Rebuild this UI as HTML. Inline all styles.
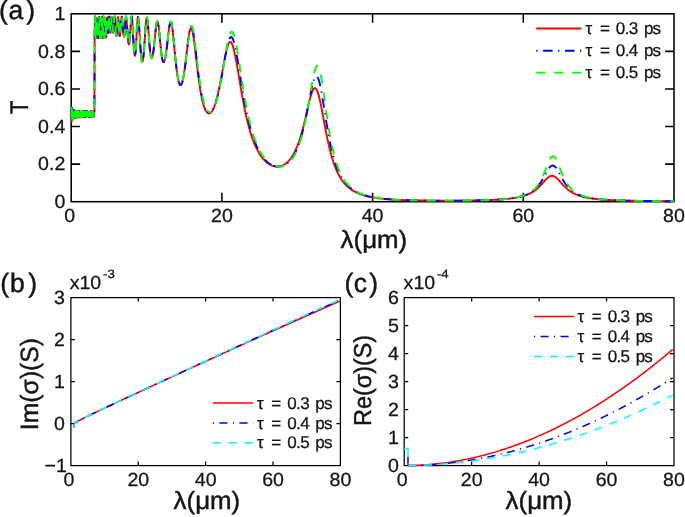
<!DOCTYPE html>
<html><head><meta charset="utf-8"><title>Figure</title>
<style>
html,body{margin:0;padding:0;background:#fff;}
body{width:685px;height:517px;overflow:hidden;font-family:"Liberation Sans",sans-serif;}
svg{display:block;position:absolute;left:0;top:0;}
svg text{stroke:#141213;stroke-width:0.28px;stroke-linejoin:round;text-rendering:geometricPrecision;font-family:"Liberation Sans",sans-serif;fill:#141213;}
</style></head><body>
<svg width="685" height="517" viewBox="0 0 685 517">
<defs><clipPath id="ca"><rect x="70.20" y="12.80" width="604.80" height="190.10"/></clipPath><clipPath id="cb"><rect x="69.90" y="296.60" width="271.50" height="170.20"/></clipPath><clipPath id="cc"><rect x="403.20" y="296.60" width="271.80" height="170.20"/></clipPath></defs>
<rect width="685" height="517" fill="#fff"/>
<rect x="71.20" y="13.80" width="602.80" height="187.90" fill="none" stroke="#000" stroke-width="1.55"/>
<path d="M221.90,201.70 v-8.90 M221.90,13.80 v8.90 M372.60,201.70 v-8.90 M372.60,13.80 v8.90 M523.30,201.70 v-8.90 M523.30,13.80 v8.90 M71.20,164.12 h8.90 M674.00,164.12 h-8.90 M71.20,126.54 h8.90 M674.00,126.54 h-8.90 M71.20,88.96 h8.90 M674.00,88.96 h-8.90 M71.20,51.38 h8.90 M674.00,51.38 h-8.90" fill="none" stroke="#000" stroke-width="1.55"/>
<g clip-path="url(#ca)">
<path d="M71.35,107.24 L71.69,121.56 L72.03,109.87 L72.37,119.02 L72.71,110.09 L73.05,117.75 L73.39,110.53 L73.72,117.91 L74.06,110.46 L74.40,117.93 L74.74,110.77 L75.08,117.89 L75.42,111.43 L75.76,117.99 L76.10,111.92 L76.44,117.41 L76.78,111.37 L77.11,117.08 L77.45,111.93 L77.79,116.41 L78.13,110.95 L78.47,117.55 L78.81,111.77 L79.15,117.06 L79.49,110.96 L79.83,117.32 L80.17,112.19 L80.51,116.01 L80.84,112.08 L81.18,117.23 L81.52,112.20 L81.86,116.54 L82.20,110.96 L82.54,116.70 L82.88,111.35 L83.22,116.37 L83.56,111.37 L83.90,117.12 L84.24,112.34 L84.57,116.99 L84.91,110.95 L85.25,116.98 L85.59,111.97 L85.93,117.04 L86.27,112.23 L86.61,116.54 L86.95,111.07 L87.29,116.32 L87.63,111.96 L87.97,116.08 L88.30,112.35 L88.64,116.87 L88.98,112.08 L89.32,116.28 L89.66,111.67 L90.00,115.97 L90.34,111.56 L90.68,116.11 L91.02,111.53 L91.36,116.90 L91.70,112.23 L92.03,116.49 L92.37,111.38 L92.71,116.49 L93.05,112.31 L93.39,116.67 L93.73,111.43 L94.07,116.64 L94.41,111.02 L94.63,36.25 L94.99,16.81 L95.15,24.05 L95.43,38.21 L95.70,26.04 L95.85,17.79 L96.07,22.37 L96.21,32.19 L96.48,37.20 L96.74,22.44 L97.00,18.48 L97.25,32.54 L97.40,37.89 L97.57,35.94 L97.84,21.57 L98.17,21.62 L98.27,27.22 L98.54,38.01 L98.86,29.72 L98.92,26.30 L99.25,17.30 L99.54,29.86 L99.63,34.26 L99.92,37.33 L100.21,25.47 L100.29,21.42 L100.59,18.05 L100.86,29.25 L101.07,36.94 L101.26,37.77 L101.44,32.98 L101.72,20.92 L101.92,16.81 L102.16,22.44 L102.37,31.24 L102.68,38.23 L102.90,35.10 L103.04,30.06 L103.31,19.57 L103.48,16.81 L103.74,21.59 L103.95,29.60 L104.23,37.44 L104.41,38.00 L104.65,33.06 L104.92,23.25 L105.09,18.37 L105.41,18.63 L105.50,21.08 L105.83,32.07 L106.00,36.08 L106.22,37.44 L106.49,33.09 L106.69,26.89 L106.90,20.74 L107.05,17.75 L107.29,17.29 L107.63,23.82 L107.82,28.42 L108.08,32.56 L108.35,32.90 L108.53,30.91 L108.64,28.91 L108.92,22.91 L109.19,17.93 L109.35,16.83 L109.71,20.02 L109.94,24.47 L110.14,28.64 L110.30,31.07 L110.59,32.82 L110.69,32.51 L110.95,29.77 L111.20,25.20 L111.48,20.06 L111.66,17.74 L111.82,16.83 L112.09,18.07 L112.31,21.21 L112.53,25.20 L112.73,28.64 L113.00,31.82 L113.24,32.61 L113.52,30.99 L113.75,28.00 L113.93,25.12 L114.14,21.55 L114.43,17.95 L114.67,16.81 L114.86,17.41 L115.11,20.05 L115.36,24.25 L115.42,25.45 L115.80,32.23 L115.92,33.86 L116.18,35.99 L116.41,35.90 L116.56,34.97 L116.71,33.43 L116.86,31.39 L117.01,28.97 L117.16,26.34 L117.31,23.70 L117.46,21.24 L117.62,19.18 L117.77,17.69 L117.92,16.91 L118.07,16.91 L118.22,17.69 L118.37,19.17 L118.52,21.23 L118.67,23.66 L118.82,26.28 L118.97,28.86 L119.12,31.23 L119.27,33.24 L119.42,34.78 L119.57,35.78 L119.73,36.18 L119.88,35.99 L120.03,35.22 L120.18,33.94 L120.33,32.21 L120.48,30.13 L120.63,27.83 L120.78,25.45 L120.93,23.13 L121.08,21.02 L121.23,19.24 L121.38,17.90 L121.53,17.08 L121.68,16.81 L121.84,17.07 L121.99,17.81 L122.14,18.95 L122.29,20.41 L122.44,22.11 L122.59,23.95 L122.74,25.88 L122.89,27.81 L123.04,29.68 L123.19,31.44 L123.34,33.04 L123.49,34.41 L123.64,35.51 L123.79,36.30 L123.94,36.75 L124.10,36.82 L124.25,36.47 L124.40,35.66 L124.55,34.38 L124.70,32.67 L124.85,30.59 L125.00,28.24 L125.15,25.78 L125.30,23.36 L125.45,21.14 L125.60,19.29 L125.75,17.91 L125.90,17.08 L126.05,16.81 L126.21,17.06 L126.36,17.81 L126.51,18.99 L126.66,20.53 L126.81,22.36 L126.96,24.41 L127.11,26.61 L127.26,28.87 L127.41,31.15 L127.56,33.37 L127.71,35.50 L127.86,37.48 L128.01,39.28 L128.16,40.85 L128.32,42.17 L128.47,43.21 L128.62,43.95 L128.77,44.39 L128.92,44.49 L129.07,44.26 L129.22,43.69 L129.37,42.79 L129.52,41.58 L129.67,40.07 L129.82,38.29 L129.97,36.28 L130.12,34.08 L130.27,31.75 L130.43,29.35 L130.58,26.95 L130.73,24.63 L130.88,22.48 L131.03,20.57 L131.18,18.99 L131.33,17.80 L131.48,17.06 L131.63,16.81 L131.78,17.06 L131.93,17.81 L132.08,19.04 L132.23,20.71 L132.38,22.74 L132.53,25.09 L132.69,27.68 L132.84,30.44 L132.99,33.28 L133.14,36.15 L133.29,38.98 L133.44,41.70 L133.59,44.28 L133.74,46.67 L133.89,48.83 L134.04,50.73 L134.19,52.35 L134.34,53.67 L134.49,54.67 L134.64,55.34 L134.80,55.69 L134.95,55.70 L135.10,55.37 L135.25,54.68 L135.40,53.64 L135.55,52.25 L135.70,50.53 L135.85,48.49 L136.00,46.16 L136.15,43.59 L136.30,40.82 L136.45,37.91 L136.60,34.92 L136.75,31.93 L136.91,29.03 L137.06,26.29 L137.21,23.79 L137.36,21.61 L137.51,19.81 L137.66,18.43 L137.81,17.51 L137.96,17.06 L138.11,17.07 L138.26,17.51 L138.41,18.35 L138.56,19.57 L138.71,21.10 L138.86,22.92 L139.01,24.96 L139.17,27.17 L139.32,29.52 L139.47,31.95 L139.62,34.42 L139.77,36.91 L139.92,39.38 L140.07,41.79 L140.22,44.13 L140.37,46.38 L140.52,48.51 L140.67,50.52 L140.82,52.39 L140.97,54.10 L141.12,55.66 L141.28,57.06 L141.43,58.28 L141.58,59.32 L141.73,60.18 L141.88,60.85 L142.03,61.33 L142.18,61.62 L142.33,61.70 L142.48,61.59 L142.63,61.29 L142.78,60.78 L142.93,60.09 L143.08,59.20 L143.23,58.13 L143.39,56.88 L143.54,55.46 L143.69,53.88 L143.84,52.15 L143.99,50.27 L144.14,48.27 L144.29,46.16 L144.44,43.96 L144.59,41.69 L144.74,39.37 L144.89,37.02 L145.04,34.69 L145.19,32.38 L145.34,30.14 L145.50,28.00 L145.65,25.98 L145.80,24.12 L145.95,22.45 L146.10,21.00 L146.25,19.78 L146.40,18.82 L146.55,18.13 L146.70,17.72 L146.85,17.60 L147.00,17.76 L147.15,18.21 L147.30,18.93 L147.45,19.90 L147.60,21.11 L147.76,22.53 L147.91,24.13 L148.06,25.88 L148.21,27.76 L148.36,29.73 L148.51,31.76 L148.66,33.83 L148.81,35.91 L148.96,37.98 L149.11,40.01 L149.26,41.98 L149.41,43.88 L149.56,45.69 L149.71,47.40 L149.87,49.01 L150.02,50.50 L150.17,51.86 L150.32,53.10 L150.47,54.21 L150.62,55.18 L150.77,56.02 L150.92,56.73 L151.07,57.31 L151.22,57.76 L151.37,58.08 L151.52,58.27 L151.67,58.34 L151.82,58.28 L151.98,58.10 L152.13,57.81 L152.28,57.41 L152.43,56.89 L152.58,56.28 L152.73,55.57 L152.88,54.76 L153.03,53.87 L153.18,52.88 L153.33,51.82 L153.48,50.69 L153.63,49.49 L153.78,48.22 L153.93,46.90 L154.08,45.53 L154.24,44.12 L154.39,42.68 L154.54,41.21 L154.69,39.72 L154.84,38.23 L154.99,36.73 L155.14,35.25 L155.29,33.80 L155.44,32.37 L155.59,31.00 L155.74,29.67 L155.89,28.41 L156.04,27.24 L156.19,26.15 L156.35,25.15 L156.50,24.27 L156.65,23.51 L156.80,22.87 L156.95,22.36 L157.10,22.00 L157.25,21.78 L157.40,21.71 L157.55,21.80 L157.70,22.05 L157.85,22.45 L158.00,22.99 L158.15,23.69 L158.30,24.52 L158.46,25.49 L158.61,26.57 L158.76,27.76 L158.91,29.06 L159.06,30.43 L159.21,31.88 L159.36,33.39 L159.51,34.94 L159.66,36.52 L159.81,38.13 L159.96,39.74 L160.11,41.34 L160.26,42.93 L160.41,44.50 L160.57,46.03 L160.72,47.52 L160.87,48.96 L161.02,50.34 L161.17,51.66 L161.32,52.91 L161.47,54.09 L161.62,55.20 L161.77,56.23 L161.92,57.17 L162.07,58.04 L162.22,58.82 L162.37,59.52 L162.52,60.13 L162.67,60.66 L162.83,61.10 L162.98,61.46 L163.13,61.74 L163.28,61.94 L163.43,62.06 L163.58,62.11 L163.73,62.08 L163.88,61.98 L164.03,61.81 L164.18,61.56 L164.33,61.25 L164.48,60.86 L164.63,60.41 L164.78,59.89 L164.94,59.31 L165.09,58.66 L165.24,57.94 L165.39,57.17 L165.54,56.34 L165.69,55.45 L165.84,54.51 L165.99,53.51 L166.14,52.47 L166.29,51.38 L166.44,50.24 L166.59,49.07 L166.74,47.86 L166.89,46.62 L167.05,45.35 L167.20,44.06 L167.35,42.75 L167.50,41.43 L167.65,40.10 L167.80,38.78 L167.95,37.45 L168.10,36.14 L168.25,34.85 L168.40,33.59 L168.55,32.35 L168.70,31.16 L168.85,30.01 L169.00,28.92 L169.15,27.89 L169.31,26.93 L169.46,26.04 L169.61,25.23 L169.76,24.51 L169.91,23.88 L170.06,23.35 L170.21,22.92 L170.36,22.60 L170.51,22.39 L170.66,22.29 L170.81,22.30 L170.96,22.42 L171.11,22.67 L171.26,23.02 L171.42,23.48 L171.57,24.06 L171.72,24.74 L171.87,25.52 L172.02,26.40 L172.17,27.37 L172.32,28.43 L172.47,29.57 L172.62,30.78 L172.77,32.07 L172.92,33.41 L173.07,34.81 L173.22,36.26 L173.37,37.76 L173.53,39.29 L173.68,40.84 L173.83,42.43 L173.98,44.02 L174.13,45.63 L174.28,47.25 L174.43,48.86 L174.58,50.47 L174.73,52.08 L174.88,53.66 L175.03,55.23 L175.18,56.78 L175.33,58.31 L175.48,59.80 L175.64,61.27 L175.79,62.70 L175.94,64.10 L176.09,65.46 L176.24,66.78 L176.39,68.06 L176.54,69.30 L176.69,70.49 L176.84,71.64 L176.99,72.75 L177.14,73.81 L177.29,74.82 L177.44,75.79 L177.59,76.70 L177.74,77.57 L177.90,78.40 L178.05,79.17 L178.20,79.90 L178.35,80.57 L178.50,81.20 L178.65,81.79 L178.80,82.32 L178.95,82.80 L179.10,83.24 L179.25,83.63 L179.40,83.97 L179.55,84.27 L179.70,84.52 L179.85,84.72 L180.01,84.88 L180.16,85.00 L180.31,85.07 L180.46,85.09 L180.61,85.08 L180.76,85.02 L180.91,84.91 L181.06,84.76 L181.21,84.57 L181.36,84.34 L181.51,84.06 L181.66,83.74 L181.81,83.38 L181.96,82.98 L182.12,82.53 L182.27,82.05 L182.42,81.52 L182.57,80.95 L182.72,80.34 L182.87,79.69 L183.02,79.00 L183.17,78.27 L183.32,77.51 L183.47,76.71 L183.62,75.86 L183.77,74.99 L183.92,74.08 L184.07,73.13 L184.22,72.15 L184.38,71.13 L184.53,70.09 L184.68,69.01 L184.83,67.91 L184.98,66.77 L185.13,65.62 L185.28,64.43 L185.43,63.23 L185.58,62.00 L185.73,60.76 L185.88,59.50 L186.03,58.22 L186.18,56.93 L186.33,55.64 L186.49,54.33 L186.64,53.03 L186.79,51.72 L186.94,50.41 L187.09,49.11 L187.24,47.82 L187.39,46.54 L187.54,45.28 L187.69,44.03 L187.84,42.81 L187.99,41.61 L188.14,40.44 L188.29,39.30 L188.44,38.20 L188.60,37.14 L188.75,36.13 L188.90,35.16 L189.05,34.24 L189.20,33.37 L189.35,32.56 L189.50,31.81 L189.65,31.12 L189.80,30.50 L189.95,29.94 L190.10,29.44 L190.25,29.02 L190.40,28.67 L190.55,28.38 L190.71,28.17 L190.86,28.04 L191.01,27.98 L191.16,27.99 L191.31,28.07 L191.46,28.22 L191.61,28.45 L191.76,28.75 L192.14,29.79 L192.51,31.24 L192.89,33.07 L193.27,35.24 L193.64,37.70 L194.02,40.41 L194.40,43.33 L194.77,46.40 L195.15,49.59 L195.53,52.85 L195.90,56.16 L196.28,59.47 L196.66,62.76 L197.03,66.00 L197.41,69.17 L197.79,72.27 L198.16,75.26 L198.54,78.15 L198.92,80.93 L199.30,83.58 L199.67,86.11 L200.05,88.52 L200.43,90.80 L200.80,92.95 L201.18,94.98 L201.56,96.88 L201.93,98.67 L202.31,100.33 L202.69,101.88 L203.06,103.32 L203.44,104.65 L203.82,105.87 L204.19,106.99 L204.57,108.02 L204.95,108.94 L205.32,109.77 L205.70,110.52 L206.08,111.17 L206.45,111.74 L206.83,112.22 L207.21,112.62 L207.58,112.94 L207.96,113.19 L208.34,113.36 L208.71,113.45 L209.09,113.47 L209.47,113.41 L209.84,113.28 L210.22,113.08 L210.60,112.80 L210.97,112.46 L211.35,112.04 L211.73,111.56 L212.10,111.00 L212.48,110.38 L212.86,109.69 L213.23,108.93 L213.61,108.10 L213.99,107.20 L214.37,106.24 L214.74,105.21 L215.12,104.11 L215.50,102.95 L215.87,101.72 L216.25,100.42 L216.63,99.06 L217.00,97.63 L217.38,96.14 L217.76,94.59 L218.13,92.98 L218.51,91.31 L218.89,89.58 L219.26,87.80 L219.64,85.97 L220.02,84.09 L220.39,82.17 L220.77,80.21 L221.15,78.21 L221.52,76.19 L221.90,74.14 L222.28,72.07 L222.65,70.00 L223.03,67.92 L223.41,65.85 L223.78,63.80 L224.16,61.78 L224.54,59.79 L224.91,57.85 L225.29,55.97 L225.67,54.16 L226.04,52.43 L226.42,50.79 L226.80,49.27 L227.17,47.85 L227.55,46.57 L227.93,45.43 L228.30,44.43 L228.68,43.59 L229.06,42.91 L229.44,42.41 L229.81,42.08 L230.19,41.93 L230.57,41.97 L230.94,42.19 L231.32,42.58 L231.70,43.16 L232.07,43.90 L232.45,44.81 L232.83,45.88 L233.20,47.10 L233.58,48.45 L233.96,49.93 L234.33,51.54 L234.71,53.25 L235.09,55.06 L235.46,56.96 L235.84,58.94 L236.22,60.99 L236.59,63.09 L236.97,65.24 L237.35,67.43 L237.72,69.65 L238.10,71.89 L238.48,74.15 L238.85,76.42 L239.23,78.68 L239.61,80.94 L239.98,83.20 L240.36,85.43 L240.74,87.65 L241.11,89.85 L241.49,92.01 L241.87,94.15 L242.24,96.26 L242.62,98.33 L243.00,100.37 L243.37,102.37 L243.75,104.33 L244.13,106.25 L244.51,108.13 L244.88,109.97 L245.26,111.76 L245.64,113.52 L246.01,115.23 L246.39,116.91 L246.77,118.54 L247.14,120.13 L247.52,121.68 L247.90,123.18 L248.27,124.65 L248.65,126.08 L249.03,127.48 L249.40,128.83 L249.78,130.15 L250.16,131.43 L250.53,132.68 L250.91,133.89 L251.29,135.06 L251.66,136.21 L252.04,137.32 L252.42,138.40 L252.79,139.45 L253.17,140.47 L253.55,141.46 L253.92,142.42 L254.30,143.35 L254.68,144.26 L255.05,145.14 L255.43,146.00 L255.81,146.83 L256.18,147.63 L256.56,148.41 L256.94,149.17 L257.31,149.91 L257.69,150.62 L258.07,151.31 L258.44,151.98 L258.82,152.63 L259.20,153.27 L259.58,153.88 L259.95,154.47 L260.33,155.05 L260.71,155.60 L261.08,156.14 L261.46,156.66 L261.84,157.17 L262.21,157.66 L262.59,158.13 L262.97,158.59 L263.34,159.03 L263.72,159.46 L264.10,159.87 L264.47,160.27 L264.85,160.66 L265.23,161.03 L265.60,161.38 L265.98,161.73 L266.36,162.06 L266.73,162.38 L267.11,162.68 L267.49,162.97 L267.86,163.26 L268.24,163.52 L268.62,163.78 L268.99,164.03 L269.37,164.26 L269.75,164.48 L270.12,164.69 L270.50,164.89 L270.88,165.08 L271.25,165.25 L271.63,165.42 L272.01,165.57 L272.38,165.71 L272.76,165.84 L273.14,165.96 L273.51,166.07 L273.89,166.16 L274.27,166.25 L274.65,166.32 L275.02,166.39 L275.40,166.44 L275.78,166.48 L276.15,166.51 L276.53,166.53 L276.91,166.53 L277.28,166.53 L277.66,166.52 L278.04,166.50 L278.41,166.46 L278.79,166.42 L279.17,166.36 L279.54,166.30 L279.92,166.22 L280.30,166.13 L280.67,166.03 L281.05,165.92 L281.43,165.80 L281.80,165.66 L282.18,165.52 L282.56,165.36 L282.93,165.19 L283.31,165.00 L283.69,164.81 L284.06,164.60 L284.44,164.38 L284.82,164.14 L285.19,163.89 L285.57,163.63 L285.95,163.35 L286.32,163.06 L286.70,162.75 L287.08,162.43 L287.45,162.09 L287.83,161.73 L288.21,161.36 L288.58,160.97 L288.96,160.57 L289.34,160.15 L289.72,159.70 L290.09,159.24 L290.47,158.76 L290.85,158.27 L291.22,157.75 L291.60,157.21 L291.98,156.65 L292.35,156.06 L292.73,155.46 L293.11,154.83 L293.48,154.18 L293.86,153.50 L294.24,152.80 L294.61,152.07 L294.99,151.32 L295.37,150.54 L295.74,149.73 L296.12,148.90 L296.50,148.03 L296.87,147.14 L297.25,146.21 L297.63,145.26 L298.00,144.27 L298.38,143.25 L298.76,142.20 L299.13,141.12 L299.51,140.00 L299.89,138.85 L300.26,137.67 L300.64,136.45 L301.02,135.19 L301.39,133.90 L301.77,132.58 L302.15,131.23 L302.52,129.84 L302.90,128.42 L303.28,126.97 L303.65,125.49 L304.03,123.98 L304.41,122.44 L304.79,120.88 L305.16,119.29 L305.54,117.69 L305.92,116.07 L306.29,114.44 L306.67,112.80 L307.05,111.16 L307.42,109.52 L307.80,107.88 L308.18,106.26 L308.55,104.66 L308.93,103.08 L309.31,101.54 L309.68,100.05 L310.06,98.60 L310.44,97.21 L310.81,95.88 L311.19,94.64 L311.57,93.48 L311.94,92.41 L312.32,91.44 L312.70,90.58 L313.07,89.84 L313.45,89.23 L313.83,88.74 L314.20,88.40 L314.58,88.19 L314.96,88.12 L315.33,88.21 L315.71,88.44 L316.09,88.82 L316.46,89.35 L316.84,90.02 L317.22,90.83 L317.59,91.78 L317.97,92.86 L318.35,94.06 L318.72,95.38 L319.10,96.81 L319.48,98.34 L319.86,99.96 L320.23,101.67 L320.61,103.44 L320.99,105.28 L321.36,107.18 L321.74,109.12 L322.12,111.10 L322.49,113.10 L322.87,115.13 L323.25,117.17 L323.62,119.21 L324.00,121.25 L324.38,123.28 L324.75,125.30 L325.13,127.30 L325.51,129.28 L325.88,131.24 L326.26,133.16 L326.64,135.05 L327.01,136.90 L327.39,138.72 L327.77,140.50 L328.14,142.23 L328.52,143.93 L328.90,145.58 L329.27,147.19 L329.65,148.76 L330.03,150.28 L330.40,151.76 L330.78,153.20 L331.16,154.59 L331.53,155.94 L331.91,157.26 L332.29,158.53 L332.66,159.76 L333.04,160.95 L333.42,162.10 L333.79,163.22 L334.17,164.30 L334.55,165.35 L334.93,166.36 L335.30,167.34 L335.68,168.28 L336.06,169.20 L336.43,170.08 L336.81,170.94 L337.19,171.76 L337.56,172.56 L337.94,173.34 L338.32,174.09 L338.69,174.81 L339.07,175.51 L339.45,176.19 L339.82,176.84 L340.20,177.47 L340.58,178.08 L340.95,178.68 L341.33,179.25 L341.71,179.81 L342.08,180.34 L342.46,180.86 L342.84,181.37 L343.21,181.85 L343.59,182.33 L343.97,182.79 L344.34,183.23 L344.72,183.67 L345.10,184.09 L345.47,184.50 L345.85,184.89 L346.23,185.28 L346.60,185.65 L346.98,186.01 L347.36,186.37 L347.73,186.71 L348.11,187.04 L348.49,187.37 L348.86,187.68 L349.24,187.99 L349.62,188.29 L350.00,188.58 L350.37,188.86 L350.75,189.13 L351.13,189.40 L351.50,189.66 L351.88,189.91 L352.26,190.16 L352.63,190.40 L353.01,190.63 L353.39,190.86 L353.76,191.08 L354.14,191.29 L354.52,191.50 L354.89,191.71 L355.27,191.91 L355.65,192.10 L356.02,192.29 L356.40,192.48 L356.78,192.66 L357.15,192.83 L357.53,193.00 L357.91,193.17 L358.28,193.33 L358.66,193.49 L359.04,193.65 L359.41,193.80 L359.79,193.95 L360.17,194.09 L360.54,194.23 L360.92,194.37 L361.30,194.50 L361.67,194.63 L362.05,194.76 L362.43,194.89 L362.80,195.01 L363.18,195.13 L363.56,195.25 L363.93,195.36 L364.31,195.47 L364.69,195.58 L365.07,195.69 L365.44,195.79 L365.82,195.89 L366.20,195.99 L366.57,196.09 L366.95,196.18 L367.33,196.27 L367.70,196.37 L368.08,196.45 L368.46,196.54 L368.83,196.63 L369.21,196.71 L369.59,196.79 L369.96,196.87 L370.34,196.95 L370.72,197.02 L371.09,197.10 L371.47,197.17 L371.85,197.24 L372.22,197.31 L372.60,197.38 L372.98,197.45 L373.35,197.51 L373.73,197.58 L374.11,197.64 L374.48,197.70 L374.86,197.76 L375.24,197.82 L375.61,197.88 L375.99,197.93 L376.37,197.99 L376.74,198.04 L377.12,198.10 L377.50,198.15 L377.87,198.20 L378.25,198.25 L378.63,198.30 L379.00,198.35 L379.38,198.39 L379.76,198.44 L380.14,198.49 L380.51,198.53 L380.89,198.57 L381.27,198.62 L381.64,198.66 L382.02,198.70 L382.40,198.74 L382.77,198.78 L383.15,198.82 L383.53,198.85 L383.90,198.89 L384.28,198.93 L384.66,198.96 L385.03,199.00 L385.41,199.03 L385.79,199.07 L386.16,199.10 L386.54,199.13 L386.92,199.16 L387.29,199.19 L387.67,199.22 L388.05,199.25 L388.42,199.28 L388.80,199.31 L389.18,199.34 L389.55,199.37 L389.93,199.40 L390.31,199.42 L390.68,199.45 L391.06,199.47 L391.44,199.50 L391.81,199.52 L392.19,199.55 L392.57,199.57 L392.94,199.59 L393.32,199.62 L393.70,199.64 L394.07,199.66 L394.45,199.68 L394.83,199.70 L395.21,199.72 L395.58,199.75 L395.96,199.77 L396.34,199.78 L396.71,199.80 L397.09,199.82 L397.47,199.84 L397.84,199.86 L398.22,199.88 L398.60,199.89 L398.97,199.91 L399.35,199.93 L399.73,199.94 L400.10,199.96 L400.48,199.98 L400.86,199.99 L401.23,200.01 L401.61,200.02 L401.99,200.04 L402.36,200.05 L402.74,200.06 L403.12,200.08 L403.49,200.09 L403.87,200.10 L404.25,200.12 L404.62,200.13 L405.00,200.14 L405.38,200.15 L405.75,200.17 L406.13,200.18 L406.51,200.19 L406.88,200.20 L407.26,200.21 L407.64,200.22 L408.01,200.23 L408.39,200.24 L408.77,200.25 L409.14,200.26 L409.52,200.27 L409.90,200.28 L410.28,200.29 L410.65,200.30 L411.03,200.31 L411.41,200.32 L411.78,200.33 L412.16,200.33 L412.54,200.34 L412.91,200.35 L413.29,200.36 L413.67,200.37 L414.04,200.37 L414.42,200.38 L414.80,200.39 L415.17,200.40 L415.55,200.40 L415.93,200.41 L416.30,200.42 L416.68,200.42 L417.06,200.43 L417.43,200.44 L417.81,200.44 L418.19,200.45 L418.56,200.46 L418.94,200.46 L419.32,200.47 L419.69,200.47 L420.07,200.48 L420.45,200.48 L420.82,200.49 L421.20,200.49 L421.58,200.50 L421.95,200.51 L422.33,200.51 L422.71,200.52 L423.08,200.52 L423.46,200.52 L423.84,200.53 L424.21,200.53 L424.59,200.54 L424.97,200.54 L425.35,200.55 L425.72,200.55 L426.10,200.55 L426.48,200.56 L426.85,200.56 L427.23,200.57 L427.61,200.57 L427.98,200.57 L428.36,200.58 L428.74,200.58 L429.11,200.58 L429.49,200.59 L429.87,200.59 L430.24,200.59 L430.62,200.60 L431.00,200.60 L431.37,200.60 L431.75,200.60 L432.13,200.61 L432.50,200.61 L432.88,200.61 L433.26,200.61 L433.63,200.62 L434.01,200.62 L434.39,200.62 L434.76,200.62 L435.14,200.63 L435.52,200.63 L435.89,200.63 L436.27,200.63 L436.65,200.63 L437.02,200.63 L437.40,200.64 L437.78,200.64 L438.15,200.64 L438.53,200.64 L438.91,200.64 L439.28,200.64 L439.66,200.64 L440.04,200.64 L440.42,200.65 L440.79,200.65 L441.17,200.65 L441.55,200.65 L441.92,200.65 L442.30,200.65 L442.68,200.65 L443.05,200.65 L443.43,200.65 L443.81,200.65 L444.18,200.65 L444.56,200.65 L444.94,200.65 L445.31,200.65 L445.69,200.65 L446.07,200.65 L446.44,200.65 L446.82,200.65 L447.20,200.65 L447.57,200.65 L447.95,200.65 L448.33,200.65 L448.70,200.65 L449.08,200.65 L449.46,200.65 L449.83,200.65 L450.21,200.64 L450.59,200.64 L450.96,200.64 L451.34,200.64 L451.72,200.64 L452.09,200.64 L452.47,200.64 L452.85,200.64 L453.22,200.63 L453.60,200.63 L453.98,200.63 L454.35,200.63 L454.73,200.63 L455.11,200.63 L455.49,200.62 L455.86,200.62 L456.24,200.62 L456.62,200.62 L456.99,200.62 L457.37,200.61 L457.75,200.61 L458.12,200.61 L458.50,200.61 L458.88,200.60 L459.25,200.60 L459.63,200.60 L460.01,200.59 L460.38,200.59 L460.76,200.59 L461.14,200.58 L461.51,200.58 L461.89,200.58 L462.27,200.57 L462.64,200.57 L463.02,200.57 L463.40,200.56 L463.77,200.56 L464.15,200.56 L464.53,200.55 L464.90,200.55 L465.28,200.54 L465.66,200.54 L466.03,200.54 L466.41,200.53 L466.79,200.53 L467.16,200.52 L467.54,200.52 L467.92,200.51 L468.29,200.51 L468.67,200.50 L469.05,200.50 L469.42,200.49 L469.80,200.49 L470.18,200.48 L470.56,200.47 L470.93,200.47 L471.31,200.46 L471.69,200.46 L472.06,200.45 L472.44,200.45 L472.82,200.44 L473.19,200.43 L473.57,200.43 L473.95,200.42 L474.32,200.41 L474.70,200.41 L475.08,200.40 L475.45,200.39 L475.83,200.38 L476.21,200.38 L476.58,200.37 L476.96,200.36 L477.34,200.35 L477.71,200.34 L478.09,200.34 L478.47,200.33 L478.84,200.32 L479.22,200.31 L479.60,200.30 L479.97,200.29 L480.35,200.28 L480.73,200.27 L481.10,200.26 L481.48,200.25 L481.86,200.24 L482.23,200.23 L482.61,200.22 L482.99,200.21 L483.36,200.20 L483.74,200.19 L484.12,200.18 L484.49,200.17 L484.87,200.16 L485.25,200.15 L485.63,200.14 L486.00,200.12 L486.38,200.11 L486.76,200.10 L487.13,200.09 L487.51,200.07 L487.89,200.06 L488.26,200.05 L488.64,200.03 L489.02,200.02 L489.39,200.00 L489.77,199.99 L490.15,199.97 L490.52,199.96 L490.90,199.94 L491.28,199.93 L491.65,199.91 L492.03,199.90 L492.41,199.88 L492.78,199.86 L493.16,199.85 L493.54,199.83 L493.91,199.81 L494.29,199.79 L494.67,199.77 L495.04,199.75 L495.42,199.74 L495.80,199.72 L496.17,199.70 L496.55,199.67 L496.93,199.65 L497.30,199.63 L497.68,199.61 L498.06,199.59 L498.43,199.57 L498.81,199.54 L499.19,199.52 L499.56,199.50 L499.94,199.47 L500.32,199.45 L500.70,199.42 L501.07,199.39 L501.45,199.37 L501.83,199.34 L502.20,199.31 L502.58,199.28 L502.96,199.26 L503.33,199.23 L503.71,199.20 L504.09,199.17 L504.46,199.13 L504.84,199.10 L505.22,199.07 L505.59,199.04 L505.97,199.00 L506.35,198.97 L506.72,198.93 L507.10,198.89 L507.48,198.86 L507.85,198.82 L508.23,198.78 L508.61,198.74 L508.98,198.70 L509.36,198.65 L509.74,198.61 L510.11,198.57 L510.49,198.52 L510.87,198.48 L511.24,198.43 L511.62,198.38 L512.00,198.33 L512.37,198.28 L512.75,198.23 L513.13,198.17 L513.50,198.12 L513.88,198.06 L514.26,198.00 L514.63,197.94 L515.01,197.88 L515.39,197.82 L515.77,197.76 L516.14,197.69 L516.52,197.63 L516.90,197.56 L517.27,197.49 L517.65,197.41 L518.03,197.34 L518.40,197.26 L518.78,197.18 L519.16,197.10 L519.53,197.02 L519.91,196.93 L520.29,196.85 L520.66,196.76 L521.04,196.66 L521.42,196.57 L521.79,196.47 L522.17,196.37 L522.55,196.27 L522.92,196.16 L523.30,196.05 L523.68,195.94 L524.05,195.82 L524.43,195.70 L524.81,195.58 L525.18,195.45 L525.56,195.32 L525.94,195.19 L526.31,195.05 L526.69,194.91 L527.07,194.76 L527.44,194.61 L527.82,194.45 L528.20,194.29 L528.57,194.13 L528.95,193.96 L529.33,193.78 L529.70,193.60 L530.08,193.42 L530.46,193.22 L530.84,193.02 L531.21,192.82 L531.59,192.61 L531.97,192.39 L532.34,192.17 L532.72,191.94 L533.10,191.70 L533.47,191.46 L533.85,191.21 L534.23,190.95 L534.60,190.68 L534.98,190.41 L535.36,190.13 L535.73,189.84 L536.11,189.54 L536.49,189.23 L536.86,188.92 L537.24,188.59 L537.62,188.26 L537.99,187.92 L538.37,187.58 L538.75,187.22 L539.12,186.86 L539.50,186.49 L539.88,186.11 L540.25,185.72 L540.63,185.33 L541.01,184.93 L541.38,184.53 L541.76,184.12 L542.14,183.70 L542.51,183.28 L542.89,182.86 L543.27,182.44 L543.64,182.02 L544.02,181.60 L544.40,181.18 L544.77,180.76 L545.15,180.35 L545.53,179.95 L545.91,179.55 L546.28,179.17 L546.66,178.79 L547.04,178.43 L547.41,178.09 L547.79,177.76 L548.17,177.46 L548.54,177.17 L548.92,176.91 L549.30,176.67 L549.67,176.47 L550.05,176.28 L550.43,176.13 L550.80,176.01 L551.18,175.92 L551.56,175.86 L551.93,175.84 L552.31,175.84 L552.69,175.88 L553.06,175.95 L553.44,176.06 L553.82,176.19 L554.19,176.36 L554.57,176.55 L554.95,176.77 L555.32,177.01 L555.70,177.29 L556.08,177.58 L556.45,177.89 L556.83,178.23 L557.21,178.58 L557.58,178.94 L557.96,179.32 L558.34,179.71 L558.71,180.11 L559.09,180.52 L559.47,180.94 L559.84,181.36 L560.22,181.78 L560.60,182.20 L560.98,182.63 L561.35,183.05 L561.73,183.47 L562.11,183.89 L562.48,184.31 L562.86,184.72 L563.24,185.12 L563.61,185.52 L563.99,185.92 L564.37,186.30 L564.74,186.68 L565.12,187.05 L565.50,187.42 L565.87,187.77 L566.25,188.12 L566.63,188.46 L567.00,188.79 L567.38,189.11 L567.76,189.43 L568.13,189.74 L568.51,190.03 L568.89,190.32 L569.26,190.61 L569.64,190.88 L570.02,191.15 L570.39,191.41 L570.77,191.66 L571.15,191.90 L571.52,192.14 L571.90,192.37 L572.28,192.59 L572.65,192.81 L573.03,193.02 L573.41,193.23 L573.78,193.42 L574.16,193.62 L574.54,193.80 L574.91,193.99 L575.29,194.16 L575.67,194.33 L576.05,194.50 L576.42,194.66 L576.80,194.81 L577.18,194.97 L577.55,195.11 L577.93,195.26 L578.31,195.39 L578.68,195.53 L579.06,195.66 L579.44,195.79 L579.81,195.91 L580.19,196.03 L580.57,196.15 L580.94,196.26 L581.32,196.37 L581.70,196.48 L582.07,196.58 L582.45,196.68 L582.83,196.78 L583.20,196.88 L583.58,196.97 L583.96,197.06 L584.33,197.15 L584.71,197.23 L585.09,197.32 L585.46,197.40 L585.84,197.48 L586.22,197.55 L586.59,197.63 L586.97,197.70 L587.35,197.77 L587.72,197.84 L588.10,197.91 L588.48,197.98 L588.85,198.04 L589.23,198.10 L589.61,198.17 L589.98,198.23 L590.36,198.28 L590.74,198.34 L591.12,198.40 L591.49,198.45 L591.87,198.50 L592.25,198.55 L592.62,198.60 L593.00,198.65 L593.38,198.70 L593.75,198.75 L594.13,198.79 L594.51,198.84 L594.88,198.88 L595.26,198.93 L595.64,198.97 L596.01,199.01 L596.39,199.05 L596.77,199.09 L597.14,199.13 L597.52,199.16 L597.90,199.20 L598.27,199.24 L598.65,199.27 L599.03,199.31 L599.40,199.34 L599.78,199.37 L600.16,199.40 L600.53,199.44 L600.91,199.47 L601.29,199.50 L601.66,199.53 L602.04,199.56 L602.42,199.58 L602.79,199.61 L603.17,199.64 L603.55,199.67 L603.92,199.69 L604.30,199.72 L604.68,199.74 L605.05,199.77 L605.43,199.79 L605.81,199.82 L606.19,199.84 L606.56,199.86 L606.94,199.88 L607.32,199.91 L607.69,199.93 L608.07,199.95 L608.45,199.97 L608.82,199.99 L609.20,200.01 L609.58,200.03 L609.95,200.05 L610.33,200.07 L610.71,200.09 L611.08,200.11 L611.46,200.12 L611.84,200.14 L612.21,200.16 L612.59,200.18 L612.97,200.19 L613.34,200.21 L613.72,200.23 L614.10,200.24 L614.47,200.26 L614.85,200.27 L615.23,200.29 L615.60,200.30 L615.98,200.32 L616.36,200.33 L616.73,200.35 L617.11,200.36 L617.49,200.37 L617.86,200.39 L618.24,200.40 L618.62,200.41 L618.99,200.43 L619.37,200.44 L619.75,200.45 L620.12,200.46 L620.50,200.48 L620.88,200.49 L621.26,200.50 L621.63,200.51 L622.01,200.52 L622.39,200.53 L622.76,200.55 L623.14,200.56 L623.52,200.57 L623.89,200.58 L624.27,200.59 L624.65,200.60 L625.02,200.61 L625.40,200.62 L625.78,200.63 L626.15,200.64 L626.53,200.65 L626.91,200.66 L627.28,200.67 L627.66,200.68 L628.04,200.68 L628.41,200.69 L628.79,200.70 L629.17,200.71 L629.54,200.72 L629.92,200.73 L630.30,200.74 L630.67,200.74 L631.05,200.75 L631.43,200.76 L631.80,200.77 L632.18,200.78 L632.56,200.78 L632.93,200.79 L633.31,200.80 L633.69,200.81 L634.06,200.81 L634.44,200.82 L634.82,200.83 L635.19,200.83 L635.57,200.84 L635.95,200.85 L636.33,200.85 L636.70,200.86 L637.08,200.87 L637.46,200.87 L637.83,200.88 L638.21,200.89 L638.59,200.89 L638.96,200.90 L639.34,200.90 L639.72,200.91 L640.09,200.92 L640.47,200.92 L640.85,200.93 L641.22,200.93 L641.60,200.94 L641.98,200.94 L642.35,200.95 L642.73,200.96 L643.11,200.96 L643.48,200.97 L643.86,200.97 L644.24,200.98 L644.61,200.98 L644.99,200.99 L645.37,200.99 L645.74,201.00 L646.12,201.00 L646.50,201.01 L646.87,201.01 L647.25,201.01 L647.63,201.02 L648.00,201.02 L648.38,201.03 L648.76,201.03 L649.13,201.04 L649.51,201.04 L649.89,201.05 L650.26,201.05 L650.64,201.05 L651.02,201.06 L651.40,201.06 L651.77,201.07 L652.15,201.07 L652.53,201.07 L652.90,201.08 L653.28,201.08 L653.66,201.09 L654.03,201.09 L654.41,201.09 L654.79,201.10 L655.16,201.10 L655.54,201.11 L655.92,201.11 L656.29,201.11 L656.67,201.12 L657.05,201.12 L657.42,201.12 L657.80,201.13 L658.18,201.13 L658.55,201.13 L658.93,201.14 L659.31,201.14 L659.68,201.14 L660.06,201.15 L660.44,201.15 L660.81,201.15 L661.19,201.16 L661.57,201.16 L661.94,201.16 L662.32,201.16 L662.70,201.17 L663.07,201.17 L663.45,201.17 L663.83,201.18 L664.20,201.18 L664.58,201.18 L664.96,201.18 L665.33,201.19 L665.71,201.19 L666.09,201.19 L666.47,201.20 L666.84,201.20 L667.22,201.20 L667.60,201.20 L667.97,201.21 L668.35,201.21 L668.73,201.21 L669.10,201.21 L669.48,201.22 L669.86,201.22 L670.23,201.22 L670.61,201.22 L670.99,201.23 L671.36,201.23 L671.74,201.23 L672.12,201.23 L672.49,201.23 L672.87,201.24 L673.25,201.24 L673.62,201.24 L674.00,201.24" fill="none" stroke="#ff0000" stroke-width="1.90" stroke-linejoin="round"/>
<path d="M71.35,107.16 L71.69,118.91 L72.03,107.96 L72.37,119.45 L72.71,109.28 L73.05,118.40 L73.39,110.48 L73.72,118.57 L74.06,110.68 L74.40,117.35 L74.74,110.35 L75.08,117.59 L75.42,111.57 L75.76,117.32 L76.10,111.64 L76.44,117.61 L76.78,110.63 L77.11,116.98 L77.45,110.78 L77.79,116.22 L78.13,111.42 L78.47,116.14 L78.81,111.60 L79.15,116.15 L79.49,112.10 L79.83,116.87 L80.17,111.98 L80.51,116.11 L80.84,112.01 L81.18,116.45 L81.52,111.66 L81.86,116.22 L82.20,111.42 L82.54,116.62 L82.88,111.63 L83.22,116.47 L83.56,111.22 L83.90,116.75 L84.24,112.14 L84.57,116.92 L84.91,110.98 L85.25,116.62 L85.59,111.09 L85.93,116.39 L86.27,111.56 L86.61,116.52 L86.95,111.75 L87.29,117.02 L87.63,111.61 L87.97,117.27 L88.30,111.60 L88.64,116.02 L88.98,111.85 L89.32,117.12 L89.66,111.80 L90.00,115.94 L90.34,112.03 L90.68,115.99 L91.02,110.95 L91.36,117.29 L91.70,111.23 L92.03,116.76 L92.37,111.28 L92.71,116.14 L93.05,111.96 L93.39,116.65 L93.73,111.87 L94.07,115.96 L94.41,110.97 L94.63,36.22 L94.99,16.44 L95.15,23.81 L95.43,38.21 L95.70,25.84 L95.85,17.43 L96.07,22.10 L96.21,32.09 L96.48,37.18 L96.74,22.17 L97.00,18.14 L97.25,32.45 L97.40,37.88 L97.57,35.91 L97.84,21.29 L98.17,21.34 L98.27,27.04 L98.54,38.00 L98.86,29.59 L98.92,26.10 L99.25,16.94 L99.54,29.72 L99.63,34.19 L99.92,37.32 L100.21,25.25 L100.29,21.13 L100.59,17.70 L100.86,29.10 L101.07,36.92 L101.26,37.76 L101.44,32.89 L101.72,20.63 L101.92,16.43 L102.16,22.17 L102.37,31.13 L102.68,38.23 L102.90,35.06 L103.04,29.92 L103.31,19.25 L103.48,16.44 L103.74,21.31 L103.95,29.45 L104.23,37.43 L104.41,38.00 L104.65,32.98 L104.92,22.99 L105.09,18.02 L105.41,18.29 L105.50,20.79 L105.83,31.97 L106.00,36.06 L106.22,37.44 L106.49,33.03 L106.69,26.72 L106.90,20.44 L107.05,17.40 L107.29,16.92 L107.63,23.60 L107.82,28.31 L108.08,32.54 L108.35,32.90 L108.53,30.86 L108.64,28.82 L108.92,22.68 L109.19,17.59 L109.35,16.45 L109.71,19.72 L109.94,24.28 L110.14,28.54 L110.30,31.03 L110.59,32.82 L110.69,32.51 L110.95,29.71 L111.20,25.03 L111.48,19.77 L111.66,17.39 L111.82,16.46 L112.09,17.72 L112.31,20.94 L112.53,25.03 L112.73,28.55 L113.00,31.80 L113.24,32.61 L113.52,30.96 L113.75,27.90 L113.93,24.95 L114.14,21.29 L114.43,17.60 L114.67,16.43 L114.86,17.05 L115.11,19.75 L115.36,24.05 L115.42,25.27 L115.80,32.17 L115.92,33.83 L116.18,35.99 L116.41,35.89 L116.56,34.95 L116.71,33.39 L116.86,31.31 L117.01,28.84 L117.16,26.16 L117.31,23.47 L117.46,20.96 L117.62,18.85 L117.77,17.33 L117.92,16.53 L118.07,16.53 L118.22,17.33 L118.37,18.85 L118.52,20.95 L118.67,23.43 L118.82,26.09 L118.97,28.73 L119.12,31.14 L119.27,33.19 L119.42,34.76 L119.57,35.77 L119.73,36.18 L119.88,35.98 L120.03,35.21 L120.18,33.90 L120.33,32.13 L120.48,30.02 L120.63,27.68 L120.78,25.26 L120.93,22.89 L121.08,20.73 L121.23,18.92 L121.38,17.55 L121.53,16.71 L121.68,16.43 L121.84,16.70 L121.99,17.45 L122.14,18.62 L122.29,20.11 L122.44,21.84 L122.59,23.72 L122.74,25.68 L122.89,27.65 L123.04,29.56 L123.19,31.35 L123.34,32.97 L123.49,34.37 L123.64,35.49 L123.79,36.29 L123.94,36.74 L124.10,36.82 L124.25,36.46 L124.40,35.64 L124.55,34.34 L124.70,32.59 L124.85,30.47 L125.00,28.08 L125.15,25.58 L125.30,23.11 L125.45,20.85 L125.60,18.96 L125.75,17.55 L125.90,16.71 L126.05,16.43 L126.21,16.69 L126.36,17.45 L126.51,18.65 L126.66,20.22 L126.81,22.08 L126.96,24.17 L127.11,26.39 L127.26,28.69 L127.41,31.00 L127.56,33.26 L127.71,35.41 L127.86,37.41 L128.01,39.23 L128.16,40.82 L128.32,42.16 L128.47,43.20 L128.62,43.95 L128.77,44.39 L128.92,44.49 L129.07,44.25 L129.22,43.67 L129.37,42.76 L129.52,41.53 L129.67,40.00 L129.82,38.20 L129.97,36.16 L130.12,33.93 L130.27,31.57 L130.43,29.14 L130.58,26.71 L130.73,24.36 L130.88,22.18 L131.03,20.24 L131.18,18.64 L131.33,17.43 L131.48,16.69 L131.63,16.43 L131.78,16.69 L131.93,17.45 L132.08,18.70 L132.23,20.38 L132.38,22.44 L132.53,24.82 L132.69,27.44 L132.84,30.22 L132.99,33.10 L133.14,35.99 L133.29,38.84 L133.44,41.60 L133.59,44.20 L133.74,46.61 L133.89,48.78 L134.04,50.70 L134.19,52.33 L134.34,53.66 L134.49,54.66 L134.64,55.34 L134.80,55.69 L134.95,55.70 L135.10,55.36 L135.25,54.67 L135.40,53.62 L135.55,52.22 L135.70,50.48 L135.85,48.42 L136.00,46.08 L136.15,43.48 L136.30,40.68 L136.45,37.74 L136.60,34.73 L136.75,31.71 L136.91,28.78 L137.06,26.01 L137.21,23.49 L137.36,21.28 L137.51,19.46 L137.66,18.07 L137.81,17.14 L137.96,16.68 L138.11,16.69 L138.26,17.14 L138.41,17.99 L138.56,19.22 L138.71,20.77 L138.86,22.60 L139.01,24.66 L139.17,26.90 L139.32,29.27 L139.47,31.72 L139.62,34.22 L139.77,36.73 L139.92,39.21 L140.07,41.65 L140.22,44.01 L140.37,46.27 L140.52,48.42 L140.67,50.44 L140.82,52.33 L140.97,54.05 L141.12,55.62 L141.28,57.03 L141.43,58.25 L141.58,59.30 L141.73,60.17 L141.88,60.84 L142.03,61.33 L142.18,61.61 L142.33,61.70 L142.48,61.59 L142.63,61.28 L142.78,60.78 L142.93,60.08 L143.08,59.19 L143.23,58.11 L143.39,56.85 L143.54,55.42 L143.69,53.83 L143.84,52.08 L143.99,50.20 L144.14,48.18 L144.29,46.05 L144.44,43.83 L144.59,41.54 L144.74,39.20 L144.89,36.84 L145.04,34.48 L145.19,32.16 L145.34,29.89 L145.50,27.73 L145.65,25.70 L145.80,23.82 L145.95,22.13 L146.10,20.66 L146.25,19.43 L146.40,18.45 L146.55,17.76 L146.70,17.34 L146.85,17.22 L147.00,17.39 L147.15,17.84 L147.30,18.57 L147.45,19.55 L147.60,20.77 L147.76,22.20 L147.91,23.82 L148.06,25.59 L148.21,27.48 L148.36,29.47 L148.51,31.52 L148.66,33.61 L148.81,35.71 L148.96,37.79 L149.11,39.84 L149.26,41.83 L149.41,43.74 L149.56,45.57 L149.71,47.30 L149.87,48.91 L150.02,50.41 L150.17,51.79 L150.32,53.04 L150.47,54.16 L150.62,55.14 L150.77,55.99 L150.92,56.71 L151.07,57.29 L151.22,57.75 L151.37,58.07 L151.52,58.27 L151.67,58.34 L151.82,58.28 L151.98,58.11 L152.13,57.82 L152.28,57.41 L152.43,56.90 L152.58,56.29 L152.73,55.58 L152.88,54.77 L153.03,53.87 L153.18,52.89 L153.33,51.83 L153.48,50.69 L153.63,49.48 L153.78,48.21 L153.93,46.88 L154.08,45.51 L154.24,44.09 L154.39,42.63 L154.54,41.15 L154.69,39.66 L154.84,38.15 L154.99,36.65 L155.14,35.16 L155.29,33.68 L155.44,32.25 L155.59,30.85 L155.74,29.51 L155.89,28.24 L156.04,27.04 L156.19,25.93 L156.35,24.92 L156.50,24.02 L156.65,23.23 L156.80,22.57 L156.95,22.05 L157.10,21.66 L157.25,21.43 L157.40,21.34 L157.55,21.41 L157.70,21.64 L157.85,22.02 L158.00,22.55 L158.15,23.23 L158.30,24.05 L158.46,25.01 L158.61,26.08 L158.76,27.27 L158.91,28.56 L159.06,29.93 L159.21,31.38 L159.36,32.89 L159.51,34.45 L159.66,36.04 L159.81,37.65 L159.96,39.27 L160.11,40.89 L160.26,42.49 L160.41,44.07 L160.57,45.62 L160.72,47.12 L160.87,48.58 L161.02,49.98 L161.17,51.32 L161.32,52.59 L161.47,53.79 L161.62,54.92 L161.77,55.97 L161.92,56.94 L162.07,57.83 L162.22,58.63 L162.37,59.36 L162.52,59.99 L162.67,60.54 L162.83,61.01 L162.98,61.39 L163.13,61.69 L163.28,61.91 L163.43,62.06 L163.58,62.12 L163.73,62.12 L163.88,62.04 L164.03,61.89 L164.18,61.67 L164.33,61.38 L164.48,61.01 L164.63,60.58 L164.78,60.08 L164.94,59.52 L165.09,58.89 L165.24,58.20 L165.39,57.44 L165.54,56.63 L165.69,55.76 L165.84,54.83 L165.99,53.85 L166.14,52.82 L166.29,51.74 L166.44,50.62 L166.59,49.46 L166.74,48.26 L166.89,47.02 L167.05,45.76 L167.20,44.47 L167.35,43.16 L167.50,41.84 L167.65,40.51 L167.80,39.17 L167.95,37.84 L168.10,36.52 L168.25,35.21 L168.40,33.93 L168.55,32.67 L168.70,31.45 L168.85,30.27 L169.00,29.15 L169.15,28.08 L169.31,27.07 L169.46,26.14 L169.61,25.29 L169.76,24.52 L169.91,23.84 L170.06,23.25 L170.21,22.77 L170.36,22.39 L170.51,22.12 L170.66,21.96 L170.81,21.91 L170.96,21.97 L171.11,22.15 L171.26,22.44 L171.42,22.85 L171.57,23.36 L171.72,23.99 L171.87,24.71 L172.02,25.54 L172.17,26.46 L172.32,27.47 L172.47,28.56 L172.62,29.73 L172.77,30.98 L172.92,32.29 L173.07,33.66 L173.22,35.08 L173.37,36.55 L173.53,38.05 L173.68,39.59 L173.83,41.16 L173.98,42.74 L174.13,44.34 L174.28,45.95 L174.43,47.57 L174.58,49.18 L174.73,50.78 L174.88,52.37 L175.03,53.95 L175.18,55.51 L175.33,57.05 L175.48,58.56 L175.64,60.04 L175.79,61.49 L175.94,62.91 L176.09,64.29 L176.24,65.63 L176.39,66.94 L176.54,68.20 L176.69,69.42 L176.84,70.60 L176.99,71.73 L177.14,72.82 L177.29,73.86 L177.44,74.86 L177.59,75.81 L177.74,76.71 L177.90,77.56 L178.05,78.37 L178.20,79.12 L178.35,79.84 L178.50,80.50 L178.65,81.11 L178.80,81.68 L178.95,82.20 L179.10,82.67 L179.25,83.10 L179.40,83.47 L179.55,83.80 L179.70,84.09 L179.85,84.33 L180.01,84.52 L180.16,84.68 L180.31,84.78 L180.46,84.85 L180.61,84.87 L180.76,84.85 L180.91,84.78 L181.06,84.67 L181.21,84.52 L181.36,84.32 L181.51,84.08 L181.66,83.80 L181.81,83.48 L181.96,83.12 L182.12,82.71 L182.27,82.27 L182.42,81.78 L182.57,81.25 L182.72,80.68 L182.87,80.07 L183.02,79.43 L183.17,78.74 L183.32,78.01 L183.47,77.25 L183.62,76.45 L183.77,75.61 L183.92,74.74 L184.07,73.83 L184.22,72.88 L184.38,71.90 L184.53,70.89 L184.68,69.85 L184.83,68.78 L184.98,67.68 L185.13,66.55 L185.28,65.40 L185.43,64.22 L185.58,63.01 L185.73,61.79 L185.88,60.55 L186.03,59.29 L186.18,58.02 L186.33,56.73 L186.49,55.43 L186.64,54.13 L186.79,52.82 L186.94,51.51 L187.09,50.20 L187.24,48.90 L187.39,47.60 L187.54,46.32 L187.69,45.04 L187.84,43.79 L187.99,42.55 L188.14,41.34 L188.29,40.16 L188.44,39.01 L188.60,37.89 L188.75,36.81 L188.90,35.78 L189.05,34.79 L189.20,33.84 L189.35,32.95 L189.50,32.11 L189.65,31.33 L189.80,30.61 L189.95,29.95 L190.10,29.35 L190.25,28.82 L190.40,28.36 L190.55,27.97 L190.71,27.64 L190.86,27.39 L191.01,27.21 L191.16,27.11 L191.31,27.07 L191.46,27.11 L191.61,27.22 L191.76,27.40 L192.14,28.17 L192.51,29.35 L192.89,30.92 L193.27,32.86 L193.64,35.11 L194.02,37.64 L194.40,40.40 L194.77,43.35 L195.15,46.44 L195.53,49.63 L195.90,52.89 L196.28,56.18 L196.66,59.46 L197.03,62.72 L197.41,65.92 L197.79,69.06 L198.16,72.11 L198.54,75.06 L198.92,77.91 L199.30,80.64 L199.67,83.26 L200.05,85.75 L200.43,88.12 L200.80,90.37 L201.18,92.49 L201.56,94.49 L201.93,96.37 L202.31,98.13 L202.69,99.77 L203.06,101.30 L203.44,102.73 L203.82,104.04 L204.19,105.25 L204.57,106.37 L204.95,107.38 L205.32,108.30 L205.70,109.13 L206.08,109.87 L206.45,110.52 L206.83,111.09 L207.21,111.58" fill="none" stroke="#0000ff" stroke-width="1.90" stroke-linejoin="round" stroke-dasharray="9.5 5.5 1.3 5.6" stroke-dashoffset="0.00"/>
<path d="M206.83,111.09 L207.21,111.58 L207.58,111.98 L207.96,112.31 L208.34,112.56 L208.71,112.74 L209.09,112.84 L209.47,112.86 L209.84,112.81 L210.22,112.69 L210.60,112.50 L210.97,112.24 L211.35,111.90 L211.73,111.50 L212.10,111.02 L212.48,110.48 L212.86,109.87 L213.23,109.19 L213.61,108.45 L213.99,107.63 L214.37,106.75 L214.74,105.79 L215.12,104.77 L215.50,103.69 L215.87,102.53 L216.25,101.31 L216.63,100.02 L217.00,98.66 L217.38,97.24 L217.76,95.75 L218.13,94.20 L218.51,92.58 L218.89,90.90 L219.26,89.17 L219.64,87.37 L220.02,85.52 L220.39,83.61 L220.77,81.65 L221.15,79.65 L221.52,77.61 L221.90,75.53 L222.28,73.41 L222.65,71.27 L223.03,69.12 L223.41,66.95 L223.78,64.77 L224.16,62.61 L224.54,60.45 L224.91,58.33 L225.29,56.23 L225.67,54.19 L226.04,52.20 L226.42,50.29 L226.80,48.45 L227.17,46.72 L227.55,45.08 L227.93,43.57 L228.30,42.19 L228.68,40.96 L229.06,39.87 L229.44,38.95 L229.81,38.20 L230.19,37.63 L230.57,37.25 L230.94,37.05 L231.32,37.04 L231.70,37.23 L232.07,37.60 L232.45,38.17 L232.83,38.91 L233.20,39.83 L233.58,40.91 L233.96,42.15 L234.33,43.54 L234.71,45.07 L235.09,46.72 L235.46,48.49 L235.84,50.37 L236.22,52.34 L236.59,54.40 L236.97,56.52 L237.35,58.71 L237.72,60.95 L238.10,63.24 L238.48,65.55 L238.85,67.89 L239.23,70.25 L239.61,72.62 L239.98,74.98 L240.36,77.35 L240.74,79.70 L241.11,82.04 L241.49,84.35 L241.87,86.65 L242.24,88.91 L242.62,91.15 L243.00,93.35 L243.37,95.51 L243.75,97.64 L244.13,99.73 L244.51,101.78 L244.88,103.78 L245.26,105.74 L245.64,107.66 L246.01,109.53 L246.39,111.36 L246.77,113.15 L247.14,114.89 L247.52,116.59 L247.90,118.25 L248.27,119.86 L248.65,121.43 L249.03,122.96 L249.40,124.45 L249.78,125.90 L250.16,127.31 L250.53,128.68 L250.91,130.01 L251.29,131.30 L251.66,132.56 L252.04,133.78 L252.42,134.97 L252.79,136.13 L253.17,137.25 L253.55,138.34 L253.92,139.39 L254.30,140.42 L254.68,141.42 L255.05,142.39 L255.43,143.33 L255.81,144.24 L256.18,145.12 L256.56,145.98 L256.94,146.82 L257.31,147.63 L257.69,148.41 L258.07,149.18 L258.44,149.92 L258.82,150.63 L259.20,151.33 L259.58,152.00 L259.95,152.66 L260.33,153.29 L260.71,153.90 L261.08,154.50 L261.46,155.08 L261.84,155.64 L262.21,156.18 L262.59,156.70 L262.97,157.21 L263.34,157.70 L263.72,158.17 L264.10,158.63 L264.47,159.08 L264.85,159.51 L265.23,159.92 L265.60,160.32 L265.98,160.70 L266.36,161.08 L266.73,161.43 L267.11,161.78 L267.49,162.11 L267.86,162.43 L268.24,162.73 L268.62,163.03 L268.99,163.31 L269.37,163.58 L269.75,163.83 L270.12,164.08 L270.50,164.31 L270.88,164.53 L271.25,164.74" fill="none" stroke="#0000ff" stroke-width="1.90" stroke-linejoin="round" stroke-dasharray="9.5 5.5 1.3 5.6" stroke-dashoffset="6.71"/>
<path d="M270.88,164.53 L271.25,164.74 L271.63,164.94 L272.01,165.13 L272.38,165.30 L272.76,165.47 L273.14,165.62 L273.51,165.76 L273.89,165.89 L274.27,166.01 L274.65,166.12 L275.02,166.21 L275.40,166.30 L275.78,166.37 L276.15,166.43 L276.53,166.48 L276.91,166.53 L277.28,166.56 L277.66,166.58 L278.04,166.59 L278.41,166.59 L278.79,166.57 L279.17,166.55 L279.54,166.52 L279.92,166.48 L280.30,166.42 L280.67,166.36 L281.05,166.28 L281.43,166.19 L281.80,166.09 L282.18,165.98 L282.56,165.86 L282.93,165.72 L283.31,165.57 L283.69,165.41 L284.06,165.24 L284.44,165.05 L284.82,164.85 L285.19,164.64 L285.57,164.42 L285.95,164.17 L286.32,163.92 L286.70,163.65 L287.08,163.37 L287.45,163.07 L287.83,162.75 L288.21,162.42 L288.58,162.08 L288.96,161.71 L289.34,161.33 L289.72,160.93 L290.09,160.51 L290.47,160.08 L290.85,159.62 L291.22,159.15 L291.60,158.65 L291.98,158.14 L292.35,157.60 L292.73,157.04 L293.11,156.45 L293.48,155.85 L293.86,155.22 L294.24,154.56 L294.61,153.88 L294.99,153.17 L295.37,152.43 L295.74,151.67 L296.12,150.88 L296.50,150.05 L296.87,149.20 L297.25,148.31 L297.63,147.40 L298.00,146.44 L298.38,145.46 L298.76,144.44 L299.13,143.38 L299.51,142.28 L299.89,141.15 L300.26,139.98 L300.64,138.77 L301.02,137.52 L301.39,136.23 L301.77,134.89 L302.15,133.51 L302.52,132.10 L302.90,130.63 L303.28,129.13 L303.65,127.58 L304.03,125.99 L304.41,124.36 L304.79,122.69 L305.16,120.97 L305.54,119.22 L305.92,117.43 L306.29,115.61 L306.67,113.75 L307.05,111.86 L307.42,109.95 L307.80,108.02 L308.18,106.07 L308.55,104.11 L308.93,102.15 L309.31,100.19 L309.68,98.24 L310.06,96.30 L310.44,94.39 L310.81,92.52 L311.19,90.70 L311.57,88.93 L311.94,87.23 L312.32,85.62 L312.70,84.09 L313.07,82.66 L313.45,81.36 L313.83,80.17 L314.20,79.13 L314.58,78.23 L314.96,77.49 L315.33,76.92 L315.71,76.52 L316.09,76.30 L316.46,76.26 L316.84,76.40 L317.22,76.74 L317.59,77.26 L317.97,77.96 L318.35,78.84 L318.72,79.89 L319.10,81.11 L319.48,82.49 L319.86,84.02 L320.23,85.69 L320.61,87.48 L320.99,89.38 L321.36,91.39 L321.74,93.49 L322.12,95.67 L322.49,97.91 L322.87,100.20 L323.25,102.54 L323.62,104.90 L324.00,107.29 L324.38,109.68 L324.75,112.07 L325.13,114.46 L325.51,116.83 L325.88,119.18 L326.26,121.51 L326.64,123.79 L327.01,126.05 L327.39,128.26 L327.77,130.42 L328.14,132.54 L328.52,134.61 L328.90,136.63 L329.27,138.59 L329.65,140.50 L330.03,142.36 L330.40,144.16 L330.78,145.91 L331.16,147.61 L331.53,149.25 L331.91,150.85 L332.29,152.39 L332.66,153.87 L333.04,155.31 L333.42,156.71 L333.79,158.05 L334.17,159.35 L334.55,160.60 L334.93,161.82 L335.30,162.98 L335.68,164.11 L336.06,165.20 L336.43,166.25 L336.81,167.27 L337.19,168.25 L337.56,169.19 L337.94,170.10 L338.32,170.98 L338.69,171.83 L339.07,172.65 L339.45,173.44 L339.82,174.20 L340.20,174.94 L340.58,175.65 L340.95,176.34 L341.33,177.01 L341.71,177.65 L342.08,178.27 L342.46,178.87 L342.84,179.45 L343.21,180.01 L343.59,180.55 L343.97,181.08 L344.34,181.58 L344.72,182.08 L345.10,182.56 L345.47,183.02 L345.85,183.47 L346.23,183.91 L346.60,184.33 L346.98,184.74 L347.36,185.14 L347.73,185.52 L348.11,185.90 L348.49,186.26 L348.86,186.62 L349.24,186.96 L349.62,187.29 L350.00,187.62 L350.37,187.93 L350.75,188.23 L351.13,188.53 L351.50,188.82 L351.88,189.10 L352.26,189.37 L352.63,189.64 L353.01,189.90 L353.39,190.15 L353.76,190.39 L354.14,190.63 L354.52,190.86 L354.89,191.08 L355.27,191.30 L355.65,191.52 L356.02,191.72 L356.40,191.93 L356.78,192.12 L357.15,192.31 L357.53,192.50 L357.91,192.68 L358.28,192.86 L358.66,193.03 L359.04,193.20 L359.41,193.37 L359.79,193.53 L360.17,193.68 L360.54,193.84 L360.92,193.99 L361.30,194.13 L361.67,194.27 L362.05,194.41 L362.43,194.55 L362.80,194.68 L363.18,194.81 L363.56,194.93 L363.93,195.05 L364.31,195.17 L364.69,195.29 L365.07,195.40 L365.44,195.52 L365.82,195.62 L366.20,195.73 L366.57,195.83 L366.95,195.94 L367.33,196.04 L367.70,196.13 L368.08,196.23 L368.46,196.32 L368.83,196.41 L369.21,196.50 L369.59,196.59 L369.96,196.67 L370.34,196.75 L370.72,196.83 L371.09,196.91 L371.47,196.99 L371.85,197.07 L372.22,197.14 L372.60,197.21 L372.98,197.28 L373.35,197.35 L373.73,197.42 L374.11,197.49 L374.48,197.55 L374.86,197.62 L375.24,197.68 L375.61,197.74 L375.99,197.80 L376.37,197.86 L376.74,197.92 L377.12,197.97 L377.50,198.03 L377.87,198.08 L378.25,198.13 L378.63,198.18 L379.00,198.24 L379.38,198.28 L379.76,198.33 L380.14,198.38 L380.51,198.43 L380.89,198.47 L381.27,198.52 L381.64,198.56 L382.02,198.60 L382.40,198.65 L382.77,198.69 L383.15,198.73 L383.53,198.77 L383.90,198.81 L384.28,198.84 L384.66,198.88 L385.03,198.92 L385.41,198.95 L385.79,198.99 L386.16,199.02 L386.54,199.06 L386.92,199.09 L387.29,199.12 L387.67,199.16 L388.05,199.19 L388.42,199.22 L388.80,199.25 L389.18,199.28 L389.55,199.31 L389.93,199.33 L390.31,199.36 L390.68,199.39 L391.06,199.42 L391.44,199.44 L391.81,199.47 L392.19,199.49 L392.57,199.52 L392.94,199.54 L393.32,199.57 L393.70,199.59 L394.07,199.61 L394.45,199.63 L394.83,199.66 L395.21,199.68 L395.58,199.70 L395.96,199.72 L396.34,199.74 L396.71,199.76 L397.09,199.78 L397.47,199.80 L397.84,199.82 L398.22,199.84 L398.60,199.85 L398.97,199.87 L399.35,199.89 L399.73,199.91 L400.10,199.92 L400.48,199.94 L400.86,199.95 L401.23,199.97 L401.61,199.99 L401.99,200.00 L402.36,200.02 L402.74,200.03 L403.12,200.04 L403.49,200.06 L403.87,200.07 L404.25,200.09 L404.62,200.10 L405.00,200.11 L405.38,200.12 L405.75,200.14 L406.13,200.15 L406.51,200.16 L406.88,200.17 L407.26,200.18 L407.64,200.19 L408.01,200.20 L408.39,200.22 L408.77,200.23 L409.14,200.24 L409.52,200.25 L409.90,200.26 L410.28,200.27 L410.65,200.27" fill="none" stroke="#0000ff" stroke-width="1.90" stroke-linejoin="round" stroke-dasharray="9.5 5.5 1.3 5.6" stroke-dashoffset="19.23"/>
<path d="M410.28,200.27 L410.65,200.27 L411.03,200.28 L411.41,200.29 L411.78,200.30 L412.16,200.31 L412.54,200.32 L412.91,200.33 L413.29,200.34 L413.67,200.34 L414.04,200.35 L414.42,200.36 L414.80,200.37 L415.17,200.37 L415.55,200.38 L415.93,200.39 L416.30,200.40 L416.68,200.40 L417.06,200.41 L417.43,200.42 L417.81,200.42 L418.19,200.43 L418.56,200.44 L418.94,200.44 L419.32,200.45 L419.69,200.45 L420.07,200.46 L420.45,200.47 L420.82,200.47 L421.20,200.48 L421.58,200.48 L421.95,200.49 L422.33,200.49 L422.71,200.50 L423.08,200.50 L423.46,200.51 L423.84,200.51 L424.21,200.52 L424.59,200.52 L424.97,200.53 L425.35,200.53 L425.72,200.54 L426.10,200.54 L426.48,200.54 L426.85,200.55 L427.23,200.55 L427.61,200.56 L427.98,200.56 L428.36,200.56 L428.74,200.57 L429.11,200.57 L429.49,200.57 L429.87,200.58 L430.24,200.58 L430.62,200.58 L431.00,200.59 L431.37,200.59 L431.75,200.59 L432.13,200.59 L432.50,200.60 L432.88,200.60 L433.26,200.60 L433.63,200.60 L434.01,200.61 L434.39,200.61 L434.76,200.61 L435.14,200.61 L435.52,200.62 L435.89,200.62 L436.27,200.62 L436.65,200.62 L437.02,200.62 L437.40,200.62 L437.78,200.63 L438.15,200.63 L438.53,200.63 L438.91,200.63 L439.28,200.63 L439.66,200.63 L440.04,200.63 L440.42,200.63 L440.79,200.64 L441.17,200.64 L441.55,200.64 L441.92,200.64 L442.30,200.64 L442.68,200.64 L443.05,200.64 L443.43,200.64 L443.81,200.64 L444.18,200.64 L444.56,200.64 L444.94,200.64 L445.31,200.64 L445.69,200.64 L446.07,200.64 L446.44,200.64 L446.82,200.64 L447.20,200.64 L447.57,200.64 L447.95,200.64 L448.33,200.64 L448.70,200.64 L449.08,200.64 L449.46,200.64 L449.83,200.64 L450.21,200.64 L450.59,200.63 L450.96,200.63 L451.34,200.63 L451.72,200.63 L452.09,200.63 L452.47,200.63 L452.85,200.63 L453.22,200.63 L453.60,200.62 L453.98,200.62 L454.35,200.62 L454.73,200.62 L455.11,200.62 L455.49,200.62 L455.86,200.61 L456.24,200.61 L456.62,200.61 L456.99,200.61 L457.37,200.60 L457.75,200.60 L458.12,200.60 L458.50,200.60 L458.88,200.59 L459.25,200.59 L459.63,200.59 L460.01,200.59 L460.38,200.58 L460.76,200.58 L461.14,200.58 L461.51,200.57 L461.89,200.57 L462.27,200.57 L462.64,200.56 L463.02,200.56 L463.40,200.56 L463.77,200.55 L464.15,200.55 L464.53,200.54 L464.90,200.54 L465.28,200.54 L465.66,200.53 L466.03,200.53 L466.41,200.52 L466.79,200.52 L467.16,200.51 L467.54,200.51 L467.92,200.50 L468.29,200.50 L468.67,200.49 L469.05,200.49 L469.42,200.48 L469.80,200.48 L470.18,200.47 L470.56,200.47 L470.93,200.46 L471.31,200.45 L471.69,200.45 L472.06,200.44 L472.44,200.44 L472.82,200.43 L473.19,200.42 L473.57,200.42 L473.95,200.41 L474.32,200.40 L474.70,200.40 L475.08,200.39 L475.45,200.38 L475.83,200.37 L476.21,200.37 L476.58,200.36 L476.96,200.35 L477.34,200.34 L477.71,200.34 L478.09,200.33 L478.47,200.32 L478.84,200.31 L479.22,200.30 L479.60,200.29 L479.97,200.28 L480.35,200.27 L480.73,200.26 L481.10,200.25 L481.48,200.24 L481.86,200.23 L482.23,200.22 L482.61,200.21 L482.99,200.20 L483.36,200.19 L483.74,200.18 L484.12,200.17 L484.49,200.16 L484.87,200.15 L485.25,200.14 L485.63,200.12 L486.00,200.11 L486.38,200.10 L486.76,200.09 L487.13,200.07 L487.51,200.06 L487.89,200.05 L488.26,200.03 L488.64,200.02 L489.02,200.00 L489.39,199.99 L489.77,199.97 L490.15,199.96 L490.52,199.94 L490.90,199.93 L491.28,199.91 L491.65,199.90 L492.03,199.88 L492.41,199.86 L492.78,199.85 L493.16,199.83 L493.54,199.81 L493.91,199.79 L494.29,199.77 L494.67,199.75 L495.04,199.74 L495.42,199.72 L495.80,199.70 L496.17,199.68 L496.55,199.65 L496.93,199.63 L497.30,199.61 L497.68,199.59 L498.06,199.57 L498.43,199.54 L498.81,199.52 L499.19,199.50 L499.56,199.47 L499.94,199.45 L500.32,199.42 L500.70,199.39 L501.07,199.37 L501.45,199.34 L501.83,199.31 L502.20,199.28 L502.58,199.25 L502.96,199.22 L503.33,199.19 L503.71,199.16 L504.09,199.13 L504.46,199.10 L504.84,199.07 L505.22,199.03 L505.59,199.00 L505.97,198.96 L506.35,198.93 L506.72,198.89 L507.10,198.85 L507.48,198.81 L507.85,198.77 L508.23,198.73 L508.61,198.69 L508.98,198.65 L509.36,198.60 L509.74,198.56 L510.11,198.51 L510.49,198.46 L510.87,198.42 L511.24,198.37 L511.62,198.32 L512.00,198.26 L512.37,198.21 L512.75,198.16 L513.13,198.10 L513.50,198.04 L513.88,197.98 L514.26,197.92 L514.63,197.86 L515.01,197.80 L515.39,197.73 L515.77,197.66 L516.14,197.59 L516.52,197.52 L516.90,197.45 L517.27,197.38 L517.65,197.30 L518.03,197.22 L518.40,197.14 L518.78,197.05 L519.16,196.97 L519.53,196.88 L519.91,196.79 L520.29,196.69 L520.66,196.60 L521.04,196.50 L521.42,196.39 L521.79,196.29 L522.17,196.18 L522.55,196.07 L522.92,195.95 L523.30,195.83 L523.68,195.71 L524.05,195.58 L524.43,195.45 L524.81,195.31 L525.18,195.17 L525.56,195.03 L525.94,194.88 L526.31,194.73 L526.69,194.57 L527.07,194.41 L527.44,194.24 L527.82,194.06 L528.20,193.88 L528.57,193.69 L528.95,193.50 L529.33,193.30 L529.70,193.09 L530.08,192.88 L530.46,192.65 L530.84,192.42 L531.21,192.19 L531.59,191.94 L531.97,191.68 L532.34,191.42 L532.72,191.15 L533.10,190.86 L533.47,190.57 L533.85,190.26 L534.23,189.95 L534.60,189.62 L534.98,189.28 L535.36,188.93 L535.73,188.57 L536.11,188.19 L536.49,187.81 L536.86,187.40 L537.24,186.99 L537.62,186.55 L537.99,186.11 L538.37,185.65 L538.75,185.17 L539.12,184.68 L539.50,184.17 L539.88,183.65 L540.25,183.11 L540.63,182.55 L541.01,181.98 L541.38,181.39 L541.76,180.79 L542.14,180.17 L542.51,179.54 L542.89,178.90 L543.27,178.24 L543.64,177.58 L544.02,176.90 L544.40,176.22 L544.77,175.53 L545.15,174.83 L545.53,174.14 L545.91,173.44 L546.28,172.76 L546.66,172.08 L547.04,171.41 L547.41,170.75 L547.79,170.12 L548.17,169.51 L548.54,168.93 L548.92,168.38 L549.30,167.87 L549.67,167.40 L550.05,166.97 L550.43,166.60 L550.80,166.27 L551.18,166.00 L551.56,165.79 L551.93,165.64 L552.31,165.55 L552.69,165.52 L553.06,165.56 L553.44,165.66 L553.82,165.82 L554.19,166.04 L554.57,166.31 L554.95,166.65 L555.32,167.03 L555.70,167.46 L556.08,167.94 L556.45,168.45 L556.83,169.01 L557.21,169.59 L557.58,170.21 L557.96,170.84 L558.34,171.50 L558.71,172.17 L559.09,172.85 L559.47,173.54 L559.84,174.24 L560.22,174.93 L560.60,175.63 L560.98,176.32 L561.35,177.01 L561.73,177.69 L562.11,178.35 L562.48,179.01 L562.86,179.66 L563.24,180.29 L563.61,180.91 L563.99,181.51 L564.37,182.10 L564.74,182.67 L565.12,183.23 L565.50,183.77 L565.87,184.30 L566.25,184.81 L566.63,185.30 L567.00,185.78 L567.38,186.24 L567.76,186.69 L568.13,187.12 L568.51,187.54 L568.89,187.94 L569.26,188.33 L569.64,188.71 L570.02,189.08 L570.39,189.43 L570.77,189.77 L571.15,190.10 L571.52,190.41 L571.90,190.72 L572.28,191.01 L572.65,191.30 L573.03,191.57 L573.41,191.84 L573.78,192.09 L574.16,192.34 L574.54,192.58 L574.91,192.81 L575.29,193.04 L575.67,193.25 L576.05,193.46 L576.42,193.66 L576.80,193.86 L577.18,194.05 L577.55,194.23 L577.93,194.41 L578.31,194.58 L578.68,194.74 L579.06,194.90 L579.44,195.06 L579.81,195.21 L580.19,195.35 L580.57,195.49 L580.94,195.63 L581.32,195.76 L581.70,195.89 L582.07,196.01 L582.45,196.13 L582.83,196.25 L583.20,196.36 L583.58,196.47 L583.96,196.58 L584.33,196.68 L584.71,196.78 L585.09,196.88 L585.46,196.98 L585.84,197.07 L586.22,197.16 L586.59,197.25 L586.97,197.33 L587.35,197.41 L587.72,197.49 L588.10,197.57 L588.48,197.65 L588.85,197.72 L589.23,197.79 L589.61,197.86 L589.98,197.93 L590.36,198.00 L590.74,198.06 L591.12,198.12 L591.49,198.19 L591.87,198.25 L592.25,198.30 L592.62,198.36 L593.00,198.42 L593.38,198.47 L593.75,198.52 L594.13,198.58 L594.51,198.63 L594.88,198.67 L595.26,198.72 L595.64,198.77 L596.01,198.82 L596.39,198.86 L596.77,198.90 L597.14,198.95 L597.52,198.99 L597.90,199.03 L598.27,199.07 L598.65,199.11 L599.03,199.14 L599.40,199.18 L599.78,199.22 L600.16,199.25 L600.53,199.29 L600.91,199.32 L601.29,199.36 L601.66,199.39 L602.04,199.42 L602.42,199.45 L602.79,199.48 L603.17,199.51 L603.55,199.54 L603.92,199.57 L604.30,199.60 L604.68,199.63 L605.05,199.65 L605.43,199.68 L605.81,199.71 L606.19,199.73 L606.56,199.76 L606.94,199.78 L607.32,199.81 L607.69,199.83 L608.07,199.85 L608.45,199.87 L608.82,199.90 L609.20,199.92 L609.58,199.94 L609.95,199.96 L610.33,199.98 L610.71,200.00 L611.08,200.02 L611.46,200.04 L611.84,200.06 L612.21,200.08 L612.59,200.10 L612.97,200.12 L613.34,200.13 L613.72,200.15 L614.10,200.17 L614.47,200.19 L614.85,200.20 L615.23,200.22 L615.60,200.23 L615.98,200.25 L616.36,200.27 L616.73,200.28 L617.11,200.30 L617.49,200.31 L617.86,200.33 L618.24,200.34 L618.62,200.35 L618.99,200.37 L619.37,200.38 L619.75,200.39 L620.12,200.41 L620.50,200.42 L620.88,200.43 L621.26,200.45 L621.63,200.46 L622.01,200.47 L622.39,200.48 L622.76,200.49 L623.14,200.51 L623.52,200.52 L623.89,200.53 L624.27,200.54 L624.65,200.55 L625.02,200.56 L625.40,200.57 L625.78,200.58 L626.15,200.59 L626.53,200.60 L626.91,200.61 L627.28,200.62 L627.66,200.63 L628.04,200.64 L628.41,200.65 L628.79,200.66 L629.17,200.67 L629.54,200.68 L629.92,200.69 L630.30,200.70 L630.67,200.70 L631.05,200.71 L631.43,200.72 L631.80,200.73 L632.18,200.74 L632.56,200.75 L632.93,200.75 L633.31,200.76 L633.69,200.77 L634.06,200.78 L634.44,200.78 L634.82,200.79 L635.19,200.80 L635.57,200.81 L635.95,200.81 L636.33,200.82 L636.70,200.83 L637.08,200.83 L637.46,200.84 L637.83,200.85 L638.21,200.85 L638.59,200.86 L638.96,200.87 L639.34,200.87 L639.72,200.88 L640.09,200.89 L640.47,200.89 L640.85,200.90 L641.22,200.90 L641.60,200.91 L641.98,200.92 L642.35,200.92 L642.73,200.93 L643.11,200.93 L643.48,200.94 L643.86,200.94 L644.24,200.95 L644.61,200.96 L644.99,200.96 L645.37,200.97 L645.74,200.97 L646.12,200.98 L646.50,200.98 L646.87,200.99 L647.25,200.99 L647.63,201.00 L648.00,201.00 L648.38,201.01 L648.76,201.01 L649.13,201.01 L649.51,201.02 L649.89,201.02 L650.26,201.03 L650.64,201.03 L651.02,201.04 L651.40,201.04 L651.77,201.05 L652.15,201.05 L652.53,201.05 L652.90,201.06 L653.28,201.06 L653.66,201.07 L654.03,201.07 L654.41,201.07 L654.79,201.08 L655.16,201.08 L655.54,201.09 L655.92,201.09 L656.29,201.09 L656.67,201.10 L657.05,201.10 L657.42,201.10 L657.80,201.11 L658.18,201.11 L658.55,201.11 L658.93,201.12 L659.31,201.12 L659.68,201.12 L660.06,201.13 L660.44,201.13 L660.81,201.13 L661.19,201.14 L661.57,201.14 L661.94,201.14 L662.32,201.15 L662.70,201.15 L663.07,201.15 L663.45,201.16 L663.83,201.16 L664.20,201.16 L664.58,201.17 L664.96,201.17 L665.33,201.17 L665.71,201.17 L666.09,201.18 L666.47,201.18 L666.84,201.18 L667.22,201.19 L667.60,201.19 L667.97,201.19 L668.35,201.19 L668.73,201.20 L669.10,201.20 L669.48,201.20 L669.86,201.20 L670.23,201.21 L670.61,201.21 L670.99,201.21 L671.36,201.21 L671.74,201.22 L672.12,201.22 L672.49,201.22 L672.87,201.22 L673.25,201.23 L673.62,201.23 L674.00,201.23" fill="none" stroke="#0000ff" stroke-width="1.90" stroke-linejoin="round" stroke-dasharray="9.5 5.5 1.3 5.6" stroke-dashoffset="1.03"/>
<path d="M71.35,106.68 L71.69,121.51 L72.03,108.86 L72.37,119.69 L72.71,107.88 L73.05,119.95 L73.39,110.68 L73.72,117.58 L74.06,111.25 L74.40,117.72 L74.74,111.57 L75.08,117.44 L75.42,110.59 L75.76,116.89 L76.10,110.77 L76.44,117.27 L76.78,112.03 L77.11,117.08 L77.45,111.73 L77.79,116.75 L78.13,111.77 L78.47,117.12 L78.81,111.58 L79.15,116.24 L79.49,111.47 L79.83,117.15 L80.17,111.86 L80.51,116.28 L80.84,111.76 L81.18,117.32 L81.52,110.91 L81.86,116.91 L82.20,111.04 L82.54,117.15 L82.88,111.81 L83.22,116.05 L83.56,111.42 L83.90,116.72 L84.24,111.85 L84.57,116.23 L84.91,111.79 L85.25,116.58 L85.59,111.99 L85.93,116.32 L86.27,111.72 L86.61,117.14 L86.95,111.53 L87.29,116.31 L87.63,111.98 L87.97,116.55 L88.30,112.08 L88.64,116.19 L88.98,111.64 L89.32,116.02 L89.66,111.69 L90.00,116.42 L90.34,111.36 L90.68,116.97 L91.02,111.39 L91.36,116.89 L91.70,111.84 L92.03,116.86 L92.37,111.89 L92.71,116.72 L93.05,111.91 L93.39,116.54 L93.73,112.29 L94.07,116.24 L94.41,110.98 L94.63,36.17 L94.99,15.88 L95.15,23.46 L95.43,38.21 L95.70,25.53 L95.85,16.90 L96.07,21.70 L96.21,31.94 L96.48,37.16 L96.74,21.77 L97.00,17.62 L97.25,32.31 L97.40,37.88 L97.57,35.85 L97.84,20.86 L98.17,20.92 L98.27,26.77 L98.54,38.00 L98.86,29.38 L98.92,25.81 L99.25,16.39 L99.54,29.52 L99.63,34.10 L99.92,37.29 L100.21,24.94 L100.29,20.70 L100.59,17.17 L100.86,28.88 L101.07,36.89 L101.26,37.75 L101.44,32.77 L101.72,20.18 L101.92,15.87 L102.16,21.77 L102.37,30.96 L102.68,38.23 L102.90,34.98 L103.04,29.72 L103.31,18.77 L103.48,15.88 L103.74,20.88 L103.95,29.24 L104.23,37.41 L104.41,37.99 L104.65,32.86 L104.92,22.61 L105.09,17.50 L105.41,17.78 L105.50,20.35 L105.83,31.82 L106.00,36.01 L106.22,37.44 L106.49,32.93 L106.69,26.46 L106.90,20.00 L107.05,16.86 L107.29,16.38 L107.63,23.28 L107.82,28.14 L108.08,32.51 L108.35,32.89 L108.53,30.79 L108.64,28.68 L108.92,22.34 L109.19,17.06 L109.35,15.89 L109.71,19.28 L109.94,24.00 L110.14,28.41 L110.30,30.97 L110.59,32.82 L110.69,32.50 L110.95,29.61 L111.20,24.78 L111.48,19.33 L111.66,16.86 L111.82,15.89 L112.09,17.21 L112.31,20.55 L112.53,24.78 L112.73,28.42 L113.00,31.77 L113.24,32.61 L113.52,30.90 L113.75,27.74 L113.93,24.69 L114.14,20.91 L114.43,17.08 L114.67,15.87 L114.86,16.51 L115.11,19.31 L115.36,23.74 L115.42,24.99 L115.80,32.08 L115.92,33.77 L116.18,35.98 L116.41,35.88 L116.56,34.92 L116.71,33.31 L116.86,31.18 L117.01,28.65 L117.16,25.89 L117.31,23.12 L117.46,20.53 L117.62,18.36 L117.77,16.79 L117.92,15.97 L118.07,15.97 L118.22,16.79 L118.37,18.36 L118.52,20.52 L118.67,23.08 L118.82,25.82 L118.97,28.53 L119.12,31.01 L119.27,33.12 L119.42,34.72 L119.57,35.76 L119.73,36.18 L119.88,35.98 L120.03,35.18 L120.18,33.84 L120.33,32.03 L120.48,29.86 L120.63,27.45 L120.78,24.96 L120.93,22.52 L121.08,20.30 L121.23,18.43 L121.38,17.02 L121.53,16.16 L121.68,15.87 L121.84,16.14 L121.99,16.92 L122.14,18.13 L122.29,19.66 L122.44,21.44 L122.59,23.38 L122.74,25.40 L122.89,27.42 L123.04,29.38 L123.19,31.22 L123.34,32.88 L123.49,34.31 L123.64,35.46 L123.79,36.28 L123.94,36.74 L124.10,36.82 L124.25,36.45 L124.40,35.60 L124.55,34.27 L124.70,32.47 L124.85,30.30 L125.00,27.85 L125.15,25.27 L125.30,22.73 L125.45,20.41 L125.60,18.47 L125.75,17.02 L125.90,16.15 L126.05,15.87 L126.21,16.14 L126.36,16.91 L126.51,18.14 L126.66,19.75 L126.81,21.66 L126.96,23.80 L127.11,26.07 L127.26,28.42 L127.41,30.78 L127.56,33.08 L127.71,35.27 L127.86,37.31 L128.01,39.16 L128.16,40.78 L128.32,42.13 L128.47,43.19 L128.62,43.95 L128.77,44.39 L128.92,44.49 L129.07,44.24 L129.22,43.65 L129.37,42.72 L129.52,41.46 L129.67,39.90 L129.82,38.06 L129.97,35.99 L130.12,33.72 L130.27,31.31 L130.43,28.83 L130.58,26.35 L130.73,23.96 L130.88,21.73 L131.03,19.76 L131.18,18.12 L131.33,16.89 L131.48,16.13 L131.63,15.87 L131.78,16.13 L131.93,16.91 L132.08,18.18 L132.23,19.89 L132.38,21.99 L132.53,24.41 L132.69,27.07 L132.84,29.90 L132.99,32.82 L133.14,35.76 L133.29,38.65 L133.44,41.44 L133.59,44.07 L133.74,46.51 L133.89,48.71 L134.04,50.65 L134.19,52.30 L134.34,53.64 L134.49,54.65 L134.64,55.34 L134.80,55.69 L134.95,55.70 L135.10,55.35 L135.25,54.65 L135.40,53.59 L135.55,52.17 L135.70,50.41 L135.85,48.32 L136.00,45.95 L136.15,43.32 L136.30,40.48 L136.45,37.50 L136.60,34.44 L136.75,31.39 L136.91,28.41 L137.06,25.60 L137.21,23.03 L137.36,20.79 L137.51,18.94 L137.66,17.53 L137.81,16.59 L137.96,16.12 L138.11,16.13 L138.26,16.58 L138.41,17.45 L138.56,18.70 L138.71,20.27 L138.86,22.13 L139.01,24.22 L139.17,26.49 L139.32,28.89 L139.47,31.38 L139.62,33.91 L139.77,36.45 L139.92,38.97 L140.07,41.44 L140.22,43.82 L140.37,46.11 L140.52,48.29 L140.67,50.33 L140.82,52.23 L140.97,53.98 L141.12,55.57 L141.28,56.98 L141.43,58.22 L141.58,59.28 L141.73,60.15 L141.88,60.84 L142.03,61.32 L142.18,61.61 L142.33,61.70 L142.48,61.59 L142.63,61.28 L142.78,60.77 L142.93,60.06 L143.08,59.16 L143.23,58.07 L143.39,56.81 L143.54,55.36 L143.69,53.75 L143.84,51.99 L143.99,50.08 L144.14,48.04 L144.29,45.89 L144.44,43.65 L144.59,41.33 L144.74,38.96 L144.89,36.56 L145.04,34.17 L145.19,31.82 L145.34,29.52 L145.50,27.33 L145.65,25.26 L145.80,23.36 L145.95,21.65 L146.10,20.15 L146.25,18.90 L146.40,17.91 L146.55,17.20 L146.70,16.78 L146.85,16.66 L147.00,16.83 L147.15,17.29 L147.30,18.02 L147.45,19.02 L147.60,20.26 L147.76,21.71 L147.91,23.35 L148.06,25.15 L148.21,27.07 L148.36,29.09 L148.51,31.17 L148.66,33.29 L148.81,35.41 L148.96,37.52 L149.11,39.60 L149.26,41.61 L149.41,43.55 L149.56,45.40 L149.71,47.15 L149.87,48.79 L150.02,50.31 L150.17,51.70 L150.32,52.96 L150.47,54.10 L150.62,55.09 L150.77,55.95 L150.92,56.68 L151.07,57.27 L151.22,57.73 L151.37,58.06 L151.52,58.26 L151.67,58.34 L151.82,58.28 L151.98,58.11 L152.13,57.82 L152.28,57.41 L152.43,56.90 L152.58,56.28 L152.73,55.57 L152.88,54.75 L153.03,53.85 L153.18,52.86 L153.33,51.78 L153.48,50.63 L153.63,49.41 L153.78,48.13 L153.93,46.79 L154.08,45.40 L154.24,43.96 L154.39,42.49 L154.54,40.99 L154.69,39.48 L154.84,37.95 L154.99,36.43 L155.14,34.91 L155.29,33.42 L155.44,31.96 L155.59,30.54 L155.74,29.17 L155.89,27.88 L156.04,26.66 L156.19,25.52 L156.35,24.49 L156.50,23.56 L156.65,22.76 L156.80,22.08 L156.95,21.53 L157.10,21.13 L157.25,20.88 L157.40,20.78 L157.55,20.84 L157.70,21.05 L157.85,21.43 L158.00,21.95 L158.15,22.63 L158.30,23.45 L158.46,24.41 L158.61,25.49 L158.76,26.68 L158.91,27.98 L159.06,29.36 L159.21,30.83 L159.36,32.35 L159.51,33.92 L159.66,35.53 L159.81,37.16 L159.96,38.80 L160.11,40.44 L160.26,42.06 L160.41,43.66 L160.57,45.23 L160.72,46.76 L160.87,48.24 L161.02,49.66 L161.17,51.02 L161.32,52.32 L161.47,53.54 L161.62,54.69 L161.77,55.76 L161.92,56.75 L162.07,57.66 L162.22,58.49 L162.37,59.23 L162.52,59.88 L162.67,60.45 L162.83,60.94 L162.98,61.34 L163.13,61.65 L163.28,61.89 L163.43,62.05 L163.58,62.13 L163.73,62.14 L163.88,62.08 L164.03,61.94 L164.18,61.73 L164.33,61.45 L164.48,61.10 L164.63,60.68 L164.78,60.19 L164.94,59.64 L165.09,59.02 L165.24,58.33 L165.39,57.59 L165.54,56.78 L165.69,55.91 L165.84,54.99 L165.99,54.02 L166.14,52.99 L166.29,51.91 L166.44,50.79 L166.59,49.63 L166.74,48.42 L166.89,47.19 L167.05,45.92 L167.20,44.62 L167.35,43.31 L167.50,41.97 L167.65,40.63 L167.80,39.28 L167.95,37.93 L168.10,36.59 L168.25,35.26 L168.40,33.95 L168.55,32.67 L168.70,31.43 L168.85,30.22 L169.00,29.06 L169.15,27.96 L169.31,26.92 L169.46,25.95 L169.61,25.06 L169.76,24.25 L169.91,23.53 L170.06,22.91 L170.21,22.38 L170.36,21.96 L170.51,21.65 L170.66,21.44 L170.81,21.35 L170.96,21.38 L171.11,21.52 L171.26,21.77 L171.42,22.14 L171.57,22.61 L171.72,23.20 L171.87,23.89 L172.02,24.68 L172.17,25.58 L172.32,26.56 L172.47,27.63 L172.62,28.78 L172.77,30.00 L172.92,31.29 L173.07,32.65 L173.22,34.05 L173.37,35.51 L173.53,37.01 L173.68,38.54 L173.83,40.10 L173.98,41.69 L174.13,43.29 L174.28,44.90 L174.43,46.51 L174.58,48.13 L174.73,49.74 L174.88,51.34 L175.03,52.93 L175.18,54.50 L175.33,56.05 L175.48,57.58 L175.64,59.07 L175.79,60.54 L175.94,61.97 L176.09,63.37 L176.24,64.73 L176.39,66.05 L176.54,67.34 L176.69,68.58 L176.84,69.77 L176.99,70.93 L177.14,72.04 L177.29,73.10 L177.44,74.11 L177.59,75.08 L177.74,76.01 L177.90,76.88 L178.05,77.71 L178.20,78.49 L178.35,79.22 L178.50,79.91 L178.65,80.55 L178.80,81.14 L178.95,81.68 L179.10,82.17 L179.25,82.62 L179.40,83.02 L179.55,83.37 L179.70,83.68 L179.85,83.94 L180.01,84.16 L180.16,84.33 L180.31,84.47 L180.46,84.55 L180.61,84.60 L180.76,84.60 L180.91,84.55 L181.06,84.47 L181.21,84.34 L181.36,84.17 L181.51,83.95 L181.66,83.70 L181.81,83.40 L181.96,83.06 L182.12,82.68 L182.27,82.26 L182.42,81.79 L182.57,81.29 L182.72,80.74 L182.87,80.16 L183.02,79.54 L183.17,78.87 L183.32,78.17 L183.47,77.43 L183.62,76.65 L183.77,75.83 L183.92,74.98 L184.07,74.09 L184.22,73.17 L184.38,72.21 L184.53,71.22 L184.68,70.20 L184.83,69.14 L184.98,68.06 L185.13,66.95 L185.28,65.81 L185.43,64.64 L185.58,63.45 L185.73,62.24 L185.88,61.00 L186.03,59.75 L186.18,58.48 L186.33,57.20 L186.49,55.90 L186.64,54.60 L186.79,53.28 L186.94,51.97 L187.09,50.65 L187.24,49.33 L187.39,48.02 L187.54,46.71 L187.69,45.42 L187.84,44.14 L187.99,42.87 L188.14,41.63 L188.29,40.41 L188.44,39.22 L188.60,38.06 L188.75,36.94 L188.90,35.85 L189.05,34.81 L189.20,33.80 L189.35,32.85 L189.50,31.95 L189.65,31.10 L189.80,30.31 L189.95,29.58 L190.10,28.91 L190.25,28.30 L190.40,27.76 L190.55,27.29 L190.71,26.89 L190.86,26.55 L191.01,26.29 L191.16,26.10 L191.31,25.98 L191.46,25.94 L191.61,25.97 L191.76,26.07 L192.14,26.62 L192.51,27.61 L192.89,29.01 L193.27,30.78 L193.64,32.88 L194.02,35.29 L194.40,37.94 L194.77,40.80 L195.15,43.82 L195.53,46.97 L195.90,50.20 L196.28,53.47 L196.66,56.75 L197.03,60.03 L197.41,63.26 L197.79,66.43 L198.16,69.53 L198.54,72.53 L198.92,75.44 L199.30,78.23 L199.67,80.91 L200.05,83.47 L200.43,85.91 L200.80,88.23 L201.18,90.42 L201.56,92.49 L201.93,94.44 L202.31,96.27 L202.69,97.98 L203.06,99.59 L203.44,101.08 L203.82,102.46 L204.19,103.74 L204.57,104.91 L204.95,105.99 L205.32,106.97 L205.70,107.86 L206.08,108.66 L206.45,109.37 L206.83,110.00 L207.21,110.54" fill="none" stroke="#00ff00" stroke-width="1.90" stroke-linejoin="round" stroke-dasharray="9.2 8.8" stroke-dashoffset="0.00"/>
<path d="M206.83,110.00 L207.21,110.54 L207.58,111.00 L207.96,111.39 L208.34,111.69 L208.71,111.92 L209.09,112.07 L209.47,112.15 L209.84,112.15 L210.22,112.08 L210.60,111.94 L210.97,111.73 L211.35,111.44 L211.73,111.09 L212.10,110.66 L212.48,110.17 L212.86,109.60 L213.23,108.97 L213.61,108.27 L213.99,107.50 L214.37,106.66 L214.74,105.75 L215.12,104.77 L215.50,103.72 L215.87,102.61 L216.25,101.42 L216.63,100.17 L217.00,98.85 L217.38,97.45 L217.76,95.99 L218.13,94.46 L218.51,92.87 L218.89,91.21 L219.26,89.48 L219.64,87.69 L220.02,85.84 L220.39,83.92 L220.77,81.95 L221.15,79.93 L221.52,77.85 L221.90,75.73 L222.28,73.56 L222.65,71.36 L223.03,69.13 L223.41,66.87 L223.78,64.60 L224.16,62.31 L224.54,60.03 L224.91,57.75 L225.29,55.49 L225.67,53.26 L226.04,51.08 L226.42,48.94 L226.80,46.88 L227.17,44.89 L227.55,42.99 L227.93,41.20 L228.30,39.53 L228.68,37.99 L229.06,36.59 L229.44,35.35 L229.81,34.28 L230.19,33.38 L230.57,32.67 L230.94,32.15 L231.32,31.82 L231.70,31.70 L232.07,31.78 L232.45,32.07 L232.83,32.55 L233.20,33.23 L233.58,34.09 L233.96,35.14 L234.33,36.35 L234.71,37.73 L235.09,39.27 L235.46,40.94 L235.84,42.74 L236.22,44.66 L236.59,46.68 L236.97,48.80 L237.35,51.00 L237.72,53.27 L238.10,55.59 L238.48,57.97 L238.85,60.39 L239.23,62.83 L239.61,65.30 L239.98,67.78 L240.36,70.26 L240.74,72.74 L241.11,75.21 L241.49,77.66 L241.87,80.10 L242.24,82.51 L242.62,84.89 L243.00,87.25 L243.37,89.56 L243.75,91.84 L244.13,94.08 L244.51,96.28 L244.88,98.43 L245.26,100.54 L245.64,102.60 L246.01,104.62 L246.39,106.59 L246.77,108.52 L247.14,110.40 L247.52,112.23 L247.90,114.01 L248.27,115.75 L248.65,117.45 L249.03,119.10 L249.40,120.70 L249.78,122.26 L250.16,123.78 L250.53,125.26 L250.91,126.70 L251.29,128.09 L251.66,129.45 L252.04,130.77 L252.42,132.05 L252.79,133.29 L253.17,134.50 L253.55,135.67 L253.92,136.81 L254.30,137.92 L254.68,138.99 L255.05,140.03 L255.43,141.04 L255.81,142.02 L256.18,142.98 L256.56,143.90 L256.94,144.80 L257.31,145.67 L257.69,146.52 L258.07,147.33 L258.44,148.13 L258.82,148.90 L259.20,149.65 L259.58,150.37 L259.95,151.08 L260.33,151.76 L260.71,152.42 L261.08,153.06 L261.46,153.68 L261.84,154.28 L262.21,154.87 L262.59,155.43 L262.97,155.98 L263.34,156.51 L263.72,157.02 L264.10,157.51 L264.47,157.99 L264.85,158.45 L265.23,158.90 L265.60,159.33 L265.98,159.75 L266.36,160.15 L266.73,160.54 L267.11,160.92 L267.49,161.28 L267.86,161.63 L268.24,161.96 L268.62,162.28 L268.99,162.59 L269.37,162.88 L269.75,163.17 L270.12,163.44 L270.50,163.70 L270.88,163.94 L271.25,164.18" fill="none" stroke="#00ff00" stroke-width="1.90" stroke-linejoin="round" stroke-dasharray="9.2 8.8" stroke-dashoffset="4.29"/>
<path d="M270.88,163.94 L271.25,164.18 L271.63,164.40 L272.01,164.61 L272.38,164.81 L272.76,165.00 L273.14,165.17 L273.51,165.34 L273.89,165.49 L274.27,165.63 L274.65,165.76 L275.02,165.88 L275.40,165.99 L275.78,166.09 L276.15,166.17 L276.53,166.24 L276.91,166.31 L277.28,166.36 L277.66,166.40 L278.04,166.43 L278.41,166.46 L278.79,166.47 L279.17,166.47 L279.54,166.46 L279.92,166.43 L280.30,166.40 L280.67,166.36 L281.05,166.30 L281.43,166.24 L281.80,166.16 L282.18,166.07 L282.56,165.97 L282.93,165.86 L283.31,165.73 L283.69,165.59 L284.06,165.44 L284.44,165.28 L284.82,165.11 L285.19,164.92 L285.57,164.71 L285.95,164.50 L286.32,164.27 L286.70,164.02 L287.08,163.76 L287.45,163.49 L287.83,163.20 L288.21,162.89 L288.58,162.57 L288.96,162.23 L289.34,161.88 L289.72,161.51 L290.09,161.12 L290.47,160.71 L290.85,160.28 L291.22,159.83 L291.60,159.36 L291.98,158.87 L292.35,158.36 L292.73,157.83 L293.11,157.28 L293.48,156.70 L293.86,156.10 L294.24,155.47 L294.61,154.82 L294.99,154.14 L295.37,153.43 L295.74,152.70 L296.12,151.93 L296.50,151.14 L296.87,150.31 L297.25,149.45 L297.63,148.56 L298.00,147.63 L298.38,146.67 L298.76,145.67 L299.13,144.64 L299.51,143.56 L299.89,142.45 L300.26,141.29 L300.64,140.09 L301.02,138.85 L301.39,137.56 L301.77,136.23 L302.15,134.85 L302.52,133.42 L302.90,131.95 L303.28,130.42 L303.65,128.85 L304.03,127.22 L304.41,125.55 L304.79,123.82 L305.16,122.04 L305.54,120.21 L305.92,118.33 L306.29,116.40 L306.67,114.43 L307.05,112.40 L307.42,110.34 L307.80,108.23 L308.18,106.09 L308.55,103.91 L308.93,101.71 L309.31,99.48 L309.68,97.24 L310.06,94.99 L310.44,92.73 L310.81,90.49 L311.19,88.27 L311.57,86.07 L311.94,83.92 L312.32,81.82 L312.70,79.79 L313.07,77.85 L313.45,75.99 L313.83,74.25 L314.20,72.63 L314.58,71.16 L314.96,69.84 L315.33,68.68 L315.71,67.71 L316.09,66.93 L316.46,66.35 L316.84,65.98 L317.22,65.83 L317.59,65.90 L317.97,66.19 L318.35,66.70 L318.72,67.43 L319.10,68.37 L319.48,69.53 L319.86,70.88 L320.23,72.42 L320.61,74.14 L320.99,76.03 L321.36,78.06 L321.74,80.23 L322.12,82.52 L322.49,84.91 L322.87,87.40 L323.25,89.95 L323.62,92.57 L324.00,95.22 L324.38,97.91 L324.75,100.62 L325.13,103.33 L325.51,106.04 L325.88,108.73 L326.26,111.40 L326.64,114.04 L327.01,116.64 L327.39,119.19 L327.77,121.70 L328.14,124.16 L328.52,126.56 L328.90,128.90 L329.27,131.19 L329.65,133.41 L330.03,135.56 L330.40,137.66 L330.78,139.68 L331.16,141.65 L331.53,143.55 L331.91,145.39 L332.29,147.17 L332.66,148.89 L333.04,150.55 L333.42,152.15 L333.79,153.69 L334.17,155.18 L334.55,156.62 L334.93,158.01 L335.30,159.34 L335.68,160.63 L336.06,161.87 L336.43,163.06 L336.81,164.21 L337.19,165.32 L337.56,166.39 L337.94,167.42 L338.32,168.42 L338.69,169.37 L339.07,170.29 L339.45,171.18 L339.82,172.04 L340.20,172.86 L340.58,173.66 L340.95,174.43 L341.33,175.17 L341.71,175.88 L342.08,176.57 L342.46,177.24 L342.84,177.88 L343.21,178.50 L343.59,179.10 L343.97,179.68 L344.34,180.25 L344.72,180.79 L345.10,181.32 L345.47,181.83 L345.85,182.32 L346.23,182.80 L346.60,183.26 L346.98,183.71 L347.36,184.14 L347.73,184.57 L348.11,184.97 L348.49,185.37 L348.86,185.76 L349.24,186.13 L349.62,186.49 L350.00,186.84 L350.37,187.18 L350.75,187.51 L351.13,187.83 L351.50,188.14 L351.88,188.45 L352.26,188.74 L352.63,189.03 L353.01,189.30 L353.39,189.57 L353.76,189.84 L354.14,190.09 L354.52,190.34 L354.89,190.58 L355.27,190.82 L355.65,191.04 L356.02,191.27 L356.40,191.48 L356.78,191.69 L357.15,191.90 L357.53,192.10 L357.91,192.29 L358.28,192.48 L358.66,192.66 L359.04,192.84 L359.41,193.02 L359.79,193.19 L360.17,193.35 L360.54,193.52 L360.92,193.67 L361.30,193.83 L361.67,193.98 L362.05,194.12 L362.43,194.27 L362.80,194.41 L363.18,194.54 L363.56,194.68 L363.93,194.80 L364.31,194.93 L364.69,195.05 L365.07,195.17 L365.44,195.29 L365.82,195.41 L366.20,195.52 L366.57,195.63 L366.95,195.73 L367.33,195.84 L367.70,195.94 L368.08,196.04 L368.46,196.14 L368.83,196.23 L369.21,196.33 L369.59,196.42 L369.96,196.51 L370.34,196.59 L370.72,196.68 L371.09,196.76 L371.47,196.84 L371.85,196.92 L372.22,197.00 L372.60,197.07 L372.98,197.15 L373.35,197.22 L373.73,197.29 L374.11,197.36 L374.48,197.43 L374.86,197.50 L375.24,197.56 L375.61,197.62 L375.99,197.69 L376.37,197.75 L376.74,197.81 L377.12,197.87 L377.50,197.92 L377.87,197.98 L378.25,198.03 L378.63,198.09 L379.00,198.14 L379.38,198.19 L379.76,198.24 L380.14,198.29 L380.51,198.34 L380.89,198.39 L381.27,198.43 L381.64,198.48 L382.02,198.52 L382.40,198.57 L382.77,198.61 L383.15,198.65 L383.53,198.69 L383.90,198.73 L384.28,198.77 L384.66,198.81 L385.03,198.85 L385.41,198.89 L385.79,198.92 L386.16,198.96 L386.54,198.99 L386.92,199.03 L387.29,199.06 L387.67,199.10 L388.05,199.13 L388.42,199.16 L388.80,199.19 L389.18,199.22 L389.55,199.25 L389.93,199.28 L390.31,199.31 L390.68,199.34 L391.06,199.36 L391.44,199.39 L391.81,199.42 L392.19,199.44 L392.57,199.47 L392.94,199.49 L393.32,199.52 L393.70,199.54 L394.07,199.57 L394.45,199.59 L394.83,199.61 L395.21,199.63 L395.58,199.66 L395.96,199.68 L396.34,199.70 L396.71,199.72 L397.09,199.74 L397.47,199.76 L397.84,199.78 L398.22,199.80 L398.60,199.82 L398.97,199.83 L399.35,199.85 L399.73,199.87 L400.10,199.89 L400.48,199.90 L400.86,199.92 L401.23,199.94 L401.61,199.95 L401.99,199.97 L402.36,199.98 L402.74,200.00 L403.12,200.01 L403.49,200.03 L403.87,200.04 L404.25,200.06 L404.62,200.07 L405.00,200.08 L405.38,200.10 L405.75,200.11 L406.13,200.12 L406.51,200.13 L406.88,200.14 L407.26,200.16 L407.64,200.17 L408.01,200.18 L408.39,200.19 L408.77,200.20 L409.14,200.21 L409.52,200.22 L409.90,200.23 L410.28,200.24 L410.65,200.25" fill="none" stroke="#00ff00" stroke-width="1.90" stroke-linejoin="round" stroke-dasharray="9.2 8.8" stroke-dashoffset="12.79"/>
<path d="M410.28,200.24 L410.65,200.25 L411.03,200.26 L411.41,200.27 L411.78,200.28 L412.16,200.29 L412.54,200.30 L412.91,200.30 L413.29,200.31 L413.67,200.32 L414.04,200.33 L414.42,200.34 L414.80,200.35 L415.17,200.35 L415.55,200.36 L415.93,200.37 L416.30,200.38 L416.68,200.38 L417.06,200.39 L417.43,200.40 L417.81,200.40 L418.19,200.41 L418.56,200.42 L418.94,200.42 L419.32,200.43 L419.69,200.44 L420.07,200.44 L420.45,200.45 L420.82,200.45 L421.20,200.46 L421.58,200.46 L421.95,200.47 L422.33,200.48 L422.71,200.48 L423.08,200.49 L423.46,200.49 L423.84,200.50 L424.21,200.50 L424.59,200.51 L424.97,200.51 L425.35,200.51 L425.72,200.52 L426.10,200.52 L426.48,200.53 L426.85,200.53 L427.23,200.54 L427.61,200.54 L427.98,200.54 L428.36,200.55 L428.74,200.55 L429.11,200.56 L429.49,200.56 L429.87,200.56 L430.24,200.57 L430.62,200.57 L431.00,200.57 L431.37,200.57 L431.75,200.58 L432.13,200.58 L432.50,200.58 L432.88,200.59 L433.26,200.59 L433.63,200.59 L434.01,200.59 L434.39,200.60 L434.76,200.60 L435.14,200.60 L435.52,200.60 L435.89,200.60 L436.27,200.61 L436.65,200.61 L437.02,200.61 L437.40,200.61 L437.78,200.61 L438.15,200.61 L438.53,200.62 L438.91,200.62 L439.28,200.62 L439.66,200.62 L440.04,200.62 L440.42,200.62 L440.79,200.62 L441.17,200.62 L441.55,200.63 L441.92,200.63 L442.30,200.63 L442.68,200.63 L443.05,200.63 L443.43,200.63 L443.81,200.63 L444.18,200.63 L444.56,200.63 L444.94,200.63 L445.31,200.63 L445.69,200.63 L446.07,200.63 L446.44,200.63 L446.82,200.63 L447.20,200.63 L447.57,200.63 L447.95,200.63 L448.33,200.63 L448.70,200.63 L449.08,200.63 L449.46,200.63 L449.83,200.63 L450.21,200.62 L450.59,200.62 L450.96,200.62 L451.34,200.62 L451.72,200.62 L452.09,200.62 L452.47,200.62 L452.85,200.62 L453.22,200.62 L453.60,200.61 L453.98,200.61 L454.35,200.61 L454.73,200.61 L455.11,200.61 L455.49,200.61 L455.86,200.60 L456.24,200.60 L456.62,200.60 L456.99,200.60 L457.37,200.59 L457.75,200.59 L458.12,200.59 L458.50,200.59 L458.88,200.58 L459.25,200.58 L459.63,200.58 L460.01,200.58 L460.38,200.57 L460.76,200.57 L461.14,200.57 L461.51,200.56 L461.89,200.56 L462.27,200.56 L462.64,200.55 L463.02,200.55 L463.40,200.55 L463.77,200.54 L464.15,200.54 L464.53,200.53 L464.90,200.53 L465.28,200.53 L465.66,200.52 L466.03,200.52 L466.41,200.51 L466.79,200.51 L467.16,200.50 L467.54,200.50 L467.92,200.49 L468.29,200.49 L468.67,200.48 L469.05,200.48 L469.42,200.47 L469.80,200.47 L470.18,200.46 L470.56,200.46 L470.93,200.45 L471.31,200.44 L471.69,200.44 L472.06,200.43 L472.44,200.43 L472.82,200.42 L473.19,200.41 L473.57,200.41 L473.95,200.40 L474.32,200.39 L474.70,200.38 L475.08,200.38 L475.45,200.37 L475.83,200.36 L476.21,200.36 L476.58,200.35 L476.96,200.34 L477.34,200.33 L477.71,200.32 L478.09,200.31 L478.47,200.31 L478.84,200.30 L479.22,200.29 L479.60,200.28 L479.97,200.27 L480.35,200.26 L480.73,200.25 L481.10,200.24 L481.48,200.23 L481.86,200.22 L482.23,200.21 L482.61,200.20 L482.99,200.19 L483.36,200.18 L483.74,200.17 L484.12,200.16 L484.49,200.15 L484.87,200.13 L485.25,200.12 L485.63,200.11 L486.00,200.10 L486.38,200.08 L486.76,200.07 L487.13,200.06 L487.51,200.04 L487.89,200.03 L488.26,200.02 L488.64,200.00 L489.02,199.99 L489.39,199.97 L489.77,199.96 L490.15,199.94 L490.52,199.93 L490.90,199.91 L491.28,199.90 L491.65,199.88 L492.03,199.86 L492.41,199.85 L492.78,199.83 L493.16,199.81 L493.54,199.79 L493.91,199.77 L494.29,199.76 L494.67,199.74 L495.04,199.72 L495.42,199.70 L495.80,199.68 L496.17,199.66 L496.55,199.63 L496.93,199.61 L497.30,199.59 L497.68,199.57 L498.06,199.54 L498.43,199.52 L498.81,199.50 L499.19,199.47 L499.56,199.45 L499.94,199.42 L500.32,199.40 L500.70,199.37 L501.07,199.34 L501.45,199.31 L501.83,199.29 L502.20,199.26 L502.58,199.23 L502.96,199.20 L503.33,199.17 L503.71,199.13 L504.09,199.10 L504.46,199.07 L504.84,199.04 L505.22,199.00 L505.59,198.97 L505.97,198.93 L506.35,198.89 L506.72,198.85 L507.10,198.82 L507.48,198.78 L507.85,198.73 L508.23,198.69 L508.61,198.65 L508.98,198.61 L509.36,198.56 L509.74,198.52 L510.11,198.47 L510.49,198.42 L510.87,198.37 L511.24,198.32 L511.62,198.27 L512.00,198.21 L512.37,198.16 L512.75,198.10 L513.13,198.05 L513.50,197.99 L513.88,197.93 L514.26,197.86 L514.63,197.80 L515.01,197.73 L515.39,197.67 L515.77,197.60 L516.14,197.53 L516.52,197.45 L516.90,197.38 L517.27,197.30 L517.65,197.22 L518.03,197.14 L518.40,197.05 L518.78,196.97 L519.16,196.88 L519.53,196.79 L519.91,196.69 L520.29,196.59 L520.66,196.49 L521.04,196.39 L521.42,196.28 L521.79,196.17 L522.17,196.06 L522.55,195.94 L522.92,195.82 L523.30,195.69 L523.68,195.56 L524.05,195.43 L524.43,195.29 L524.81,195.15 L525.18,195.00 L525.56,194.85 L525.94,194.69 L526.31,194.53 L526.69,194.36 L527.07,194.19 L527.44,194.01 L527.82,193.82 L528.20,193.63 L528.57,193.43 L528.95,193.22 L529.33,193.01 L529.70,192.78 L530.08,192.55 L530.46,192.31 L530.84,192.06 L531.21,191.80 L531.59,191.54 L531.97,191.26 L532.34,190.97 L532.72,190.67 L533.10,190.36 L533.47,190.03 L533.85,189.70 L534.23,189.34 L534.60,188.98 L534.98,188.60 L535.36,188.21 L535.73,187.80 L536.11,187.37 L536.49,186.93 L536.86,186.47 L537.24,185.99 L537.62,185.49 L537.99,184.98 L538.37,184.44 L538.75,183.88 L539.12,183.30 L539.50,182.69 L539.88,182.07 L540.25,181.42 L540.63,180.74 L541.01,180.04 L541.38,179.32 L541.76,178.57 L542.14,177.80 L542.51,177.00 L542.89,176.18 L543.27,175.34 L543.64,174.47 L544.02,173.58 L544.40,172.67 L544.77,171.74 L545.15,170.80 L545.53,169.84 L545.91,168.88 L546.28,167.91 L546.66,166.93 L547.04,165.96 L547.41,165.00 L547.79,164.06 L548.17,163.13 L548.54,162.24 L548.92,161.37 L549.30,160.55 L549.67,159.79 L550.05,159.07 L550.43,158.43 L550.80,157.85 L551.18,157.35 L551.56,156.94 L551.93,156.62 L552.31,156.39 L552.69,156.25 L553.06,156.21 L553.44,156.27 L553.82,156.43 L554.19,156.68 L554.57,157.02 L554.95,157.45 L555.32,157.97 L555.70,158.56 L556.08,159.22 L556.45,159.94 L556.83,160.72 L557.21,161.55 L557.58,162.42 L557.96,163.33 L558.34,164.26 L558.71,165.21 L559.09,166.17 L559.47,167.14 L559.84,168.12 L560.22,169.09 L560.60,170.06 L560.98,171.01 L561.35,171.95 L561.73,172.88 L562.11,173.79 L562.48,174.68 L562.86,175.54 L563.24,176.39 L563.61,177.21 L563.99,178.00 L564.37,178.77 L564.74,179.52 L565.12,180.24 L565.50,180.94 L565.87,181.61 L566.25,182.26 L566.63,182.88 L567.00,183.49 L567.38,184.07 L567.76,184.63 L568.13,185.16 L568.51,185.68 L568.89,186.18 L569.26,186.65 L569.64,187.11 L570.02,187.56 L570.39,187.98 L570.77,188.39 L571.15,188.78 L571.52,189.16 L571.90,189.53 L572.28,189.88 L572.65,190.21 L573.03,190.54 L573.41,190.85 L573.78,191.15 L574.16,191.44 L574.54,191.72 L574.91,191.99 L575.29,192.24 L575.67,192.49 L576.05,192.73 L576.42,192.96 L576.80,193.19 L577.18,193.40 L577.55,193.61 L577.93,193.81 L578.31,194.01 L578.68,194.19 L579.06,194.37 L579.44,194.55 L579.81,194.72 L580.19,194.88 L580.57,195.04 L580.94,195.19 L581.32,195.34 L581.70,195.48 L582.07,195.62 L582.45,195.75 L582.83,195.88 L583.20,196.01 L583.58,196.13 L583.96,196.25 L584.33,196.36 L584.71,196.47 L585.09,196.58 L585.46,196.68 L585.84,196.79 L586.22,196.88 L586.59,196.98 L586.97,197.07 L587.35,197.16 L587.72,197.25 L588.10,197.34 L588.48,197.42 L588.85,197.50 L589.23,197.58 L589.61,197.65 L589.98,197.73 L590.36,197.80 L590.74,197.87 L591.12,197.94 L591.49,198.00 L591.87,198.07 L592.25,198.13 L592.62,198.19 L593.00,198.25 L593.38,198.31 L593.75,198.37 L594.13,198.42 L594.51,198.48 L594.88,198.53 L595.26,198.58 L595.64,198.63 L596.01,198.68 L596.39,198.73 L596.77,198.77 L597.14,198.82 L597.52,198.86 L597.90,198.91 L598.27,198.95 L598.65,198.99 L599.03,199.03 L599.40,199.07 L599.78,199.11 L600.16,199.15 L600.53,199.19 L600.91,199.22 L601.29,199.26 L601.66,199.29 L602.04,199.33 L602.42,199.36 L602.79,199.39 L603.17,199.42 L603.55,199.45 L603.92,199.48 L604.30,199.51 L604.68,199.54 L605.05,199.57 L605.43,199.60 L605.81,199.63 L606.19,199.66 L606.56,199.68 L606.94,199.71 L607.32,199.73 L607.69,199.76 L608.07,199.78 L608.45,199.81 L608.82,199.83 L609.20,199.85 L609.58,199.87 L609.95,199.90 L610.33,199.92 L610.71,199.94 L611.08,199.96 L611.46,199.98 L611.84,200.00 L612.21,200.02 L612.59,200.04 L612.97,200.06 L613.34,200.08 L613.72,200.10 L614.10,200.11 L614.47,200.13 L614.85,200.15 L615.23,200.17 L615.60,200.18 L615.98,200.20 L616.36,200.22 L616.73,200.23 L617.11,200.25 L617.49,200.26 L617.86,200.28 L618.24,200.29 L618.62,200.31 L618.99,200.32 L619.37,200.34 L619.75,200.35 L620.12,200.37 L620.50,200.38 L620.88,200.39 L621.26,200.41 L621.63,200.42 L622.01,200.43 L622.39,200.44 L622.76,200.46 L623.14,200.47 L623.52,200.48 L623.89,200.49 L624.27,200.50 L624.65,200.51 L625.02,200.53 L625.40,200.54 L625.78,200.55 L626.15,200.56 L626.53,200.57 L626.91,200.58 L627.28,200.59 L627.66,200.60 L628.04,200.61 L628.41,200.62 L628.79,200.63 L629.17,200.64 L629.54,200.65 L629.92,200.66 L630.30,200.67 L630.67,200.68 L631.05,200.68 L631.43,200.69 L631.80,200.70 L632.18,200.71 L632.56,200.72 L632.93,200.73 L633.31,200.73 L633.69,200.74 L634.06,200.75 L634.44,200.76 L634.82,200.77 L635.19,200.77 L635.57,200.78 L635.95,200.79 L636.33,200.80 L636.70,200.80 L637.08,200.81 L637.46,200.82 L637.83,200.82 L638.21,200.83 L638.59,200.84 L638.96,200.84 L639.34,200.85 L639.72,200.86 L640.09,200.86 L640.47,200.87 L640.85,200.88 L641.22,200.88 L641.60,200.89 L641.98,200.90 L642.35,200.90 L642.73,200.91 L643.11,200.91 L643.48,200.92 L643.86,200.92 L644.24,200.93 L644.61,200.94 L644.99,200.94 L645.37,200.95 L645.74,200.95 L646.12,200.96 L646.50,200.96 L646.87,200.97 L647.25,200.97 L647.63,200.98 L648.00,200.98 L648.38,200.99 L648.76,200.99 L649.13,201.00 L649.51,201.00 L649.89,201.01 L650.26,201.01 L650.64,201.02 L651.02,201.02 L651.40,201.02 L651.77,201.03 L652.15,201.03 L652.53,201.04 L652.90,201.04 L653.28,201.05 L653.66,201.05 L654.03,201.05 L654.41,201.06 L654.79,201.06 L655.16,201.07 L655.54,201.07 L655.92,201.07 L656.29,201.08 L656.67,201.08 L657.05,201.09 L657.42,201.09 L657.80,201.09 L658.18,201.10 L658.55,201.10 L658.93,201.10 L659.31,201.11 L659.68,201.11 L660.06,201.11 L660.44,201.12 L660.81,201.12 L661.19,201.12 L661.57,201.13 L661.94,201.13 L662.32,201.13 L662.70,201.14 L663.07,201.14 L663.45,201.14 L663.83,201.15 L664.20,201.15 L664.58,201.15 L664.96,201.16 L665.33,201.16 L665.71,201.16 L666.09,201.16 L666.47,201.17 L666.84,201.17 L667.22,201.17 L667.60,201.18 L667.97,201.18 L668.35,201.18 L668.73,201.18 L669.10,201.19 L669.48,201.19 L669.86,201.19 L670.23,201.19 L670.61,201.20 L670.99,201.20 L671.36,201.20 L671.74,201.20 L672.12,201.21 L672.49,201.21 L672.87,201.21 L673.25,201.21 L673.62,201.22 L674.00,201.22" fill="none" stroke="#00ff00" stroke-width="1.90" stroke-linejoin="round" stroke-dasharray="9.2 8.8" stroke-dashoffset="1.70"/>
</g>
<rect x="70.90" y="297.60" width="269.50" height="168.00" fill="none" stroke="#000" stroke-width="1.25"/>
<path d="M138.28,465.60 v-4.00 M138.28,297.60 v4.00 M205.65,465.60 v-4.00 M205.65,297.60 v4.00 M273.02,465.60 v-4.00 M273.02,297.60 v4.00 M70.90,423.60 h4.00 M340.40,423.60 h-4.00 M70.90,381.60 h4.00 M340.40,381.60 h-4.00 M70.90,339.60 h4.00 M340.40,339.60 h-4.00" fill="none" stroke="#000" stroke-width="1.25"/>
<g clip-path="url(#cb)">
<path d="M74.00,427.38 L74.10,426.12 L74.27,424.86 L74.54,423.81 L74.88,423.26 L75.28,422.84 L76.29,422.13 L77.64,421.33 L79.66,420.24 L81.01,419.54 L84.38,417.81 L87.74,416.15 L91.11,414.52 L94.48,412.91 L97.85,411.31 L101.22,409.72 L104.59,408.13 L107.96,406.55 L111.33,404.98 L114.69,403.40 L118.06,401.83 L121.43,400.26 L124.80,398.69 L128.17,397.12 L131.54,395.55 L134.91,393.99 L138.28,392.42 L141.64,390.86 L145.01,389.30 L148.38,387.74 L151.75,386.18 L155.12,384.62 L158.49,383.06 L161.86,381.50 L165.22,379.94 L168.59,378.39 L171.96,376.83 L175.33,375.28 L178.70,373.73 L182.07,372.17 L185.44,370.62 L188.81,369.07 L192.18,367.53 L195.54,365.98 L198.91,364.43 L202.28,362.89 L205.65,361.34 L209.02,359.80 L212.39,358.26 L215.76,356.72 L219.13,355.18 L222.49,353.64 L225.86,352.11 L229.23,350.57 L232.60,349.04 L235.97,347.51 L239.34,345.98 L242.71,344.45 L246.08,342.92 L249.44,341.39 L252.81,339.87 L256.18,338.35 L259.55,336.82 L262.92,335.31 L266.29,333.79 L269.66,332.27 L273.02,330.76 L276.39,329.24 L279.76,327.73 L283.13,326.22 L286.50,324.71 L289.87,323.21 L293.24,321.70 L296.61,320.20 L299.98,318.70 L303.34,317.20 L306.71,315.71 L310.08,314.21 L313.45,312.72 L316.82,311.23 L320.19,309.74 L323.56,308.25 L326.92,306.77 L330.29,305.29 L333.66,303.81 L337.03,302.33 L340.40,300.85" fill="none" stroke="#ff0000" stroke-width="1.50" stroke-linejoin="round"/>
<path d="M74.00,427.38 L74.10,426.12 L74.27,424.86 L74.54,423.81 L74.88,423.26 L75.28,422.84 L76.29,422.13 L77.64,421.33 L79.66,420.24 L81.01,419.54 L84.38,417.81 L87.74,416.14 L91.11,414.52 L94.48,412.91 L97.85,411.31 L101.22,409.72 L104.59,408.13 L107.96,406.55 L111.33,404.97 L114.69,403.40 L118.06,401.82 L121.43,400.25 L124.80,398.68 L128.17,397.11 L131.54,395.54 L134.91,393.97 L138.28,392.41 L141.64,390.84 L145.01,389.27 L148.38,387.71 L151.75,386.15 L155.12,384.58 L158.49,383.02 L161.86,381.46 L165.22,379.90 L168.59,378.34 L171.96,376.77 L175.33,375.22 L178.70,373.66 L182.07,372.10 L185.44,370.54 L188.81,368.98 L192.18,367.43 L195.54,365.87 L198.91,364.32 L202.28,362.76 L205.65,361.21 L209.02,359.65 L212.39,358.10 L215.76,356.55 L219.13,355.00 L222.49,353.45 L225.86,351.90 L229.23,350.35 L232.60,348.80 L235.97,347.26 L239.34,345.71 L242.71,344.17 L246.08,342.62 L249.44,341.08 L252.81,339.54 L256.18,338.00 L259.55,336.45 L262.92,334.91 L266.29,333.38 L269.66,331.84 L273.02,330.30 L276.39,328.77 L279.76,327.23 L283.13,325.70 L286.50,324.16 L289.87,322.63 L293.24,321.10 L296.61,319.57 L299.98,318.04 L303.34,316.51 L306.71,314.99 L310.08,313.46 L313.45,311.94 L316.82,310.42 L320.19,308.89 L323.56,307.37 L326.92,305.85 L330.29,304.34 L333.66,302.82 L337.03,301.30 L340.40,299.79" fill="none" stroke="#0000ff" stroke-width="1.50" stroke-linejoin="round" stroke-dasharray="8.1 5.4 1.2 5.3" stroke-dashoffset="0.00"/>
<path d="M74.00,427.38 L74.10,426.12 L74.27,424.86 L74.54,423.81 L74.88,423.26 L75.28,422.84 L76.29,422.13 L77.64,421.33 L79.66,420.24 L81.01,419.54 L84.38,417.81 L87.74,416.14 L91.11,414.52 L94.48,412.91 L97.85,411.31 L101.22,409.72 L104.59,408.13 L107.96,406.55 L111.33,404.97 L114.69,403.40 L118.06,401.82 L121.43,400.25 L124.80,398.68 L128.17,397.11 L131.54,395.54 L134.91,393.97 L138.28,392.40 L141.64,390.83 L145.01,389.26 L148.38,387.70 L151.75,386.13 L155.12,384.57 L158.49,383.00 L161.86,381.44 L165.22,379.87 L168.59,378.31 L171.96,376.75 L175.33,375.19 L178.70,373.62 L182.07,372.06 L185.44,370.50 L188.81,368.94 L192.18,367.38 L195.54,365.82 L198.91,364.26 L202.28,362.70 L205.65,361.14 L209.02,359.59 L212.39,358.03 L215.76,356.47 L219.13,354.92 L222.49,353.36 L225.86,351.81 L229.23,350.25 L232.60,348.70 L235.97,347.14 L239.34,345.59 L242.71,344.04 L246.08,342.48 L249.44,340.93 L252.81,339.38 L256.18,337.83 L259.55,336.28 L262.92,334.73 L266.29,333.18 L269.66,331.64 L273.02,330.09 L276.39,328.54 L279.76,327.00 L283.13,325.45 L286.50,323.91 L289.87,322.36 L293.24,320.82 L296.61,319.28 L299.98,317.73 L303.34,316.19 L306.71,314.65 L310.08,313.11 L313.45,311.57 L316.82,310.04 L320.19,308.50 L323.56,306.96 L326.92,305.43 L330.29,303.89 L333.66,302.36 L337.03,300.82 L340.40,299.29" fill="none" stroke="#00ffff" stroke-width="1.50" stroke-linejoin="round" stroke-dasharray="8.1 7.8" stroke-dashoffset="0.00"/>
</g>
<rect x="404.20" y="297.60" width="269.80" height="168.00" fill="none" stroke="#000" stroke-width="1.25"/>
<path d="M471.65,465.60 v-4.00 M471.65,297.60 v4.00 M539.10,465.60 v-4.00 M539.10,297.60 v4.00 M606.55,465.60 v-4.00 M606.55,297.60 v4.00 M404.20,437.60 h4.00 M674.00,437.60 h-4.00 M404.20,409.60 h4.00 M674.00,409.60 h-4.00 M404.20,381.60 h4.00 M674.00,381.60 h-4.00 M404.20,353.60 h4.00 M674.00,353.60 h-4.00 M404.20,325.60 h4.00 M674.00,325.60 h-4.00" fill="none" stroke="#000" stroke-width="1.25"/>
<g clip-path="url(#cc)">
<path d="M408.01,465.58 L409.70,465.55 L411.38,465.52 L413.07,465.47 L414.76,465.42 L416.44,465.35 L418.13,465.28 L419.81,465.20 L421.50,465.11 L423.19,465.01 L424.87,464.90 L426.56,464.78 L428.25,464.65 L429.93,464.51 L431.62,464.37 L433.30,464.21 L434.99,464.04 L436.68,463.87 L438.36,463.68 L440.05,463.49 L441.74,463.29 L443.42,463.08 L445.11,462.85 L446.79,462.62 L448.48,462.38 L450.17,462.13 L451.85,461.87 L453.54,461.61 L455.23,461.33 L456.91,461.04 L458.60,460.75 L460.28,460.44 L461.97,460.13 L463.66,459.80 L465.34,459.47 L467.03,459.13 L468.72,458.77 L470.40,458.41 L472.09,458.04 L473.77,457.66 L475.46,457.27 L477.15,456.88 L478.83,456.47 L480.52,456.05 L482.21,455.63 L483.89,455.19 L485.58,454.75 L487.26,454.29 L488.95,453.83 L490.64,453.36 L492.32,452.88 L494.01,452.39 L495.70,451.89 L497.38,451.38 L499.07,450.86 L500.75,450.33 L502.44,449.79 L504.13,449.25 L505.81,448.69 L507.50,448.13 L509.19,447.56 L510.87,446.97 L512.56,446.38 L514.24,445.78 L515.93,445.17 L517.62,444.55 L519.30,443.93 L520.99,443.29 L522.68,442.64 L524.36,441.99 L526.05,441.32 L527.73,440.65 L529.42,439.96 L531.11,439.27 L532.79,438.57 L534.48,437.86 L536.17,437.14 L537.85,436.41 L539.54,435.68 L541.22,434.93 L542.91,434.17 L544.60,433.41 L546.28,432.64 L547.97,431.85 L549.66,431.06 L551.34,430.26 L553.03,429.45 L554.71,428.63 L556.40,427.80 L558.09,426.97 L559.77,426.12 L561.46,425.27 L563.15,424.40 L564.83,423.53 L566.52,422.65 L568.20,421.76 L569.89,420.86 L571.58,419.95 L573.26,419.03 L574.95,418.11 L576.64,417.17 L578.32,416.23 L580.01,415.28 L581.69,414.32 L583.38,413.34 L585.07,412.37 L586.75,411.38 L588.44,410.38 L590.13,409.37 L591.81,408.36 L593.50,407.34 L595.18,406.30 L596.87,405.26 L598.56,404.21 L600.24,403.15 L601.93,402.09 L603.62,401.01 L605.30,399.93 L606.99,398.83 L608.67,397.73 L610.36,396.62 L612.05,395.50 L613.73,394.37 L615.42,393.23 L617.11,392.09 L618.79,390.93 L620.48,389.77 L622.16,388.60 L623.85,387.42 L625.54,386.23 L627.22,385.03 L628.91,383.83 L630.60,382.61 L632.28,381.39 L633.97,380.16 L635.65,378.92 L637.34,377.67 L639.03,376.41 L640.71,375.14 L642.40,373.87 L644.09,372.58 L645.77,371.29 L647.46,369.99 L649.14,368.68 L650.83,367.37 L652.52,366.04 L654.20,364.71 L655.89,363.37 L657.58,362.02 L659.26,360.66 L660.95,359.29 L662.63,357.91 L664.32,356.53 L666.01,355.14 L667.69,353.74 L669.38,352.33 L671.07,350.91 L672.75,349.48" fill="none" stroke="#ff0000" stroke-width="1.50" stroke-linejoin="round"/>
<path d="M408.01,465.58 L409.70,465.56 L411.38,465.54 L413.07,465.50 L414.76,465.46 L416.44,465.42 L418.13,465.36 L419.81,465.30 L421.50,465.23 L423.19,465.16 L424.87,465.07 L426.56,464.98 L428.25,464.89 L429.93,464.78 L431.62,464.67 L433.30,464.56 L434.99,464.43 L436.68,464.30 L438.36,464.16 L440.05,464.02 L441.74,463.87 L443.42,463.71 L445.11,463.54 L446.79,463.37 L448.48,463.19 L450.17,463.00 L451.85,462.80 L453.54,462.60 L455.23,462.39 L456.91,462.18 L458.60,461.96 L460.28,461.73 L461.97,461.49 L463.66,461.25 L465.34,461.00 L467.03,460.74 L468.72,460.48 L470.40,460.21 L472.09,459.93 L473.77,459.64 L475.46,459.35 L477.15,459.05 L478.83,458.75 L480.52,458.43 L482.21,458.11 L483.89,457.79 L485.58,457.45 L487.26,457.11 L488.95,456.76 L490.64,456.41 L492.32,456.05 L494.01,455.68 L495.70,455.30 L497.38,454.92 L499.07,454.53 L500.75,454.14 L502.44,453.73 L504.13,453.32 L505.81,452.91 L507.50,452.48 L509.19,452.05 L510.87,451.61 L512.56,451.17 L514.24,450.72 L515.93,450.26 L517.62,449.79 L519.30,449.32 L520.99,448.84 L522.68,448.35 L524.36,447.86 L526.05,447.36 L527.73,446.85 L529.42,446.34 L531.11,445.82 L532.79,445.29 L534.48,444.75 L536.17,444.21 L537.85,443.66 L539.54,443.11 L541.22,442.55 L542.91,441.98 L544.60,441.40 L546.28,440.82 L547.97,440.23 L549.66,439.63 L551.34,439.03 L553.03,438.42 L554.71,437.80 L556.40,437.17 L558.09,436.54 L559.77,435.91 L561.46,435.26 L563.15,434.61 L564.83,433.95 L566.52,433.29 L568.20,432.61 L569.89,431.93 L571.58,431.25 L573.26,430.56 L574.95,429.86 L576.64,429.15 L578.32,428.44 L580.01,427.72 L581.69,426.99 L583.38,426.26 L585.07,425.52 L586.75,424.77 L588.44,424.02 L590.13,423.26 L591.81,422.49 L593.50,421.71 L595.18,420.93 L596.87,420.15 L598.56,419.35 L600.24,418.55 L601.93,417.74 L603.62,416.93 L605.30,416.11 L606.99,415.28 L608.67,414.44 L610.36,413.60 L612.05,412.75 L613.73,411.90 L615.42,411.04 L617.11,410.17 L618.79,409.29 L620.48,408.41 L622.16,407.52 L623.85,406.63 L625.54,405.72 L627.22,404.82 L628.91,403.90 L630.60,402.98 L632.28,402.05 L633.97,401.11 L635.65,400.17 L637.34,399.22 L639.03,398.27 L640.71,397.30 L642.40,396.34 L644.09,395.36 L645.77,394.38 L647.46,393.39 L649.14,392.39 L650.83,391.39 L652.52,390.38 L654.20,389.37 L655.89,388.35 L657.58,387.32 L659.26,386.28 L660.95,385.24 L662.63,384.19 L664.32,383.14 L666.01,382.08 L667.69,381.01 L669.38,379.93 L671.07,378.85 L672.75,377.77" fill="none" stroke="#0000ff" stroke-width="1.50" stroke-linejoin="round" stroke-dasharray="8.1 5.4 1.2 5.3" stroke-dashoffset="0.00"/>
<path d="M408.01,465.59 L409.70,465.57 L411.38,465.55 L413.07,465.52 L414.76,465.49 L416.44,465.45 L418.13,465.41 L419.81,465.36 L421.50,465.31 L423.19,465.24 L424.87,465.18 L426.56,465.11 L428.25,465.03 L429.93,464.95 L431.62,464.86 L433.30,464.77 L434.99,464.67 L436.68,464.56 L438.36,464.45 L440.05,464.33 L441.74,464.21 L443.42,464.08 L445.11,463.95 L446.79,463.81 L448.48,463.67 L450.17,463.52 L451.85,463.36 L453.54,463.20 L455.23,463.04 L456.91,462.86 L458.60,462.69 L460.28,462.50 L461.97,462.31 L463.66,462.12 L465.34,461.92 L467.03,461.71 L468.72,461.50 L470.40,461.28 L472.09,461.06 L473.77,460.83 L475.46,460.60 L477.15,460.36 L478.83,460.12 L480.52,459.86 L482.21,459.61 L483.89,459.35 L485.58,459.08 L487.26,458.81 L488.95,458.53 L490.64,458.24 L492.32,457.96 L494.01,457.66 L495.70,457.36 L497.38,457.05 L499.07,456.74 L500.75,456.42 L502.44,456.10 L504.13,455.77 L505.81,455.44 L507.50,455.10 L509.19,454.75 L510.87,454.40 L512.56,454.05 L514.24,453.68 L515.93,453.32 L517.62,452.94 L519.30,452.56 L520.99,452.18 L522.68,451.79 L524.36,451.40 L526.05,450.99 L527.73,450.59 L529.42,450.18 L531.11,449.76 L532.79,449.34 L534.48,448.91 L536.17,448.47 L537.85,448.03 L539.54,447.59 L541.22,447.14 L542.91,446.68 L544.60,446.22 L546.28,445.75 L547.97,445.28 L549.66,444.80 L551.34,444.32 L553.03,443.83 L554.71,443.33 L556.40,442.83 L558.09,442.32 L559.77,441.81 L561.46,441.30 L563.15,440.77 L564.83,440.24 L566.52,439.71 L568.20,439.17 L569.89,438.63 L571.58,438.08 L573.26,437.52 L574.95,436.96 L576.64,436.39 L578.32,435.82 L580.01,435.24 L581.69,434.66 L583.38,434.07 L585.07,433.48 L586.75,432.88 L588.44,432.27 L590.13,431.66 L591.81,431.04 L593.50,430.42 L595.18,429.79 L596.87,429.16 L598.56,428.52 L600.24,427.88 L601.93,427.23 L603.62,426.58 L605.30,425.92 L606.99,425.25 L608.67,424.58 L610.36,423.90 L612.05,423.22 L613.73,422.53 L615.42,421.84 L617.11,421.14 L618.79,420.44 L620.48,419.73 L622.16,419.01 L623.85,418.29 L625.54,417.57 L627.22,416.84 L628.91,416.10 L630.60,415.36 L632.28,414.61 L633.97,413.86 L635.65,413.10 L637.34,412.34 L639.03,411.57 L640.71,410.79 L642.40,410.01 L644.09,409.23 L645.77,408.44 L647.46,407.64 L649.14,406.84 L650.83,406.03 L652.52,405.22 L654.20,404.40 L655.89,403.58 L657.58,402.75 L659.26,401.92 L660.95,401.08 L662.63,400.23 L664.32,399.38 L666.01,398.53 L667.69,397.67 L669.38,396.80 L671.07,395.93 L672.75,395.05" fill="none" stroke="#00ffff" stroke-width="1.50" stroke-linejoin="round" stroke-dasharray="8.1 7.8" stroke-dashoffset="0.00"/>
<path d="M407.98,463.00 V465.60" stroke="#ff0000" stroke-width="1.50" fill="none"/>
<path d="M407.98,456.80 V463.00" stroke="#0000ff" stroke-width="1.50" fill="none"/>
<path d="M404.20,448.56 H407.98 V456.80" stroke="#00ffff" stroke-width="1.50" fill="none"/>
</g>
<path d="M536.20,28.50 H581.40" stroke="#ff0000" stroke-width="1.90" fill="none"/>
<path d="M536.20,50.70 H581.40" stroke="#0000ff" stroke-width="1.90" fill="none" stroke-dasharray="9.5 5.5 1.3 5.6" stroke-dashoffset="15.00"/>
<path d="M536.20,72.60 H581.40" stroke="#00ff00" stroke-width="1.90" fill="none" stroke-dasharray="9.2 8.8" stroke-dashoffset="0.00"/>
<path d="M212.90,402.90 H253.10" stroke="#ff0000" stroke-width="1.50" fill="none"/>
<path d="M212.90,422.90 H253.10" stroke="#0000ff" stroke-width="1.50" fill="none" stroke-dasharray="8.1 5.4 1.2 5.3" stroke-dashoffset="13.50"/>
<path d="M212.90,442.70 H253.10" stroke="#00ffff" stroke-width="1.50" fill="none" stroke-dasharray="8.1 7.8" stroke-dashoffset="0.00"/>
<path d="M534.00,316.60 H574.20" stroke="#ff0000" stroke-width="1.50" fill="none"/>
<path d="M534.00,336.60 H574.20" stroke="#0000ff" stroke-width="1.50" fill="none" stroke-dasharray="8.1 5.4 1.2 5.3" stroke-dashoffset="13.50"/>
<path d="M534.00,356.60 H574.20" stroke="#00ffff" stroke-width="1.50" fill="none" stroke-dasharray="8.1 7.8" stroke-dashoffset="0.00"/>
<g opacity="0.99">
<text transform="translate(65.30,207.90) scale(1.030,1)" font-size="19.00" text-anchor="end">0</text>
<text transform="translate(65.30,170.32) scale(1.030,1)" font-size="19.00" text-anchor="end">0.2</text>
<text transform="translate(65.30,132.74) scale(1.030,1)" font-size="19.00" text-anchor="end">0.4</text>
<text transform="translate(65.30,95.16) scale(1.030,1)" font-size="19.00" text-anchor="end">0.6</text>
<text transform="translate(65.30,57.58) scale(1.030,1)" font-size="19.00" text-anchor="end">0.8</text>
<text transform="translate(65.30,20.00) scale(1.030,1)" font-size="19.00" text-anchor="end">1</text>
<text transform="translate(69.70,222.30) scale(1.030,1)" font-size="19.00" text-anchor="middle">0</text>
<text transform="translate(221.90,222.30) scale(1.030,1)" font-size="19.00" text-anchor="middle">20</text>
<text transform="translate(372.60,222.30) scale(1.030,1)" font-size="19.00" text-anchor="middle">40</text>
<text transform="translate(523.30,222.30) scale(1.030,1)" font-size="19.00" text-anchor="middle">60</text>
<text transform="translate(674.00,222.30) scale(1.030,1)" font-size="19.00" text-anchor="middle">80</text>
<text transform="translate(66.80,471.70) scale(1.030,1)" font-size="19.00" text-anchor="end">−1</text>
<text transform="translate(64.80,429.70) scale(1.030,1)" font-size="19.00" text-anchor="end">0</text>
<text transform="translate(64.80,387.70) scale(1.030,1)" font-size="19.00" text-anchor="end">1</text>
<text transform="translate(64.80,345.70) scale(1.030,1)" font-size="19.00" text-anchor="end">2</text>
<text transform="translate(64.80,303.70) scale(1.030,1)" font-size="19.00" text-anchor="end">3</text>
<text transform="translate(68.90,486.10) scale(1.030,1)" font-size="19.00" text-anchor="middle">0</text>
<text transform="translate(138.28,486.10) scale(1.030,1)" font-size="19.00" text-anchor="middle">20</text>
<text transform="translate(205.65,486.10) scale(1.030,1)" font-size="19.00" text-anchor="middle">40</text>
<text transform="translate(273.02,486.10) scale(1.030,1)" font-size="19.00" text-anchor="middle">60</text>
<text transform="translate(340.40,486.10) scale(1.030,1)" font-size="19.00" text-anchor="middle">80</text>
<text transform="translate(398.80,471.70) scale(1.030,1)" font-size="19.00" text-anchor="end">0</text>
<text transform="translate(398.80,443.70) scale(1.030,1)" font-size="19.00" text-anchor="end">1</text>
<text transform="translate(398.80,415.70) scale(1.030,1)" font-size="19.00" text-anchor="end">2</text>
<text transform="translate(398.80,387.70) scale(1.030,1)" font-size="19.00" text-anchor="end">3</text>
<text transform="translate(398.80,359.70) scale(1.030,1)" font-size="19.00" text-anchor="end">4</text>
<text transform="translate(398.80,331.70) scale(1.030,1)" font-size="19.00" text-anchor="end">5</text>
<text transform="translate(398.80,303.70) scale(1.030,1)" font-size="19.00" text-anchor="end">6</text>
<text transform="translate(402.20,486.10) scale(1.030,1)" font-size="19.00" text-anchor="middle">0</text>
<text transform="translate(471.65,486.10) scale(1.030,1)" font-size="19.00" text-anchor="middle">20</text>
<text transform="translate(539.10,486.10) scale(1.030,1)" font-size="19.00" text-anchor="middle">40</text>
<text transform="translate(606.55,486.10) scale(1.030,1)" font-size="19.00" text-anchor="middle">60</text>
<text transform="translate(674.00,486.10) scale(1.030,1)" font-size="19.00" text-anchor="middle">80</text>
<text x="-1.00" y="19.40" font-size="26.50" text-anchor="start" style="stroke-width:0.45px" letter-spacing="0.6">(a<tspan dx="2.6">)</tspan></text>
<text x="0.30" y="292.20" font-size="26.50" text-anchor="start" style="stroke-width:0.45px" letter-spacing="0.8">(b<tspan dx="2.8">)</tspan></text>
<text x="344.40" y="292.00" font-size="26.50" text-anchor="start" style="stroke-width:0.45px" letter-spacing="0.6">(c<tspan dx="1.6">)</tspan></text>
<text transform="translate(373.90,247.60) scale(1.035,1)" style="stroke-width:0.45px" font-size="25.00" text-anchor="middle">λ(μm)</text>
<text transform="translate(206.90,509.30) scale(1.035,1)" style="stroke-width:0.45px" font-size="25.00" text-anchor="middle">λ(μm)</text>
<text transform="translate(538.90,509.30) scale(1.035,1)" style="stroke-width:0.45px" font-size="25.00" text-anchor="middle">λ(μm)</text>
<text transform="translate(28.0,107.2) rotate(-90) scale(0.86,1)" style="stroke-width:0.45px" font-size="25.5" text-anchor="middle">T</text>
<text transform="translate(38.3,384.0) rotate(-90) scale(0.99,1)" style="stroke-width:0.45px" font-size="25" text-anchor="middle">Im(σ)(S)</text>
<text transform="translate(371.3,380.4) rotate(-90) scale(0.955,1)" style="stroke-width:0.45px" font-size="24.5" text-anchor="middle">Re(σ)(S)</text>
<text transform="translate(69.70,288.9) scale(1.03,1)" font-size="19">x10</text>
<text transform="translate(103.00,277.8) scale(1.1,1)" font-size="12">-3</text>
<text transform="translate(403.60,288.9) scale(1.03,1)" font-size="19">x10</text>
<text transform="translate(436.90,277.8) scale(1.1,1)" font-size="12">-4</text>
<text x="585.60" y="34.20" font-size="17">τ <tspan dx="2.9">=</tspan> <tspan dx="1.2" letter-spacing="-0.6">0.3</tspan> <tspan dx="1.5" letter-spacing="-0.8">ps</tspan></text>
<text x="585.60" y="56.40" font-size="17">τ <tspan dx="2.9">=</tspan> <tspan dx="1.2" letter-spacing="-0.6">0.4</tspan> <tspan dx="1.5" letter-spacing="-0.8">ps</tspan></text>
<text x="585.60" y="78.30" font-size="17">τ <tspan dx="2.9">=</tspan> <tspan dx="1.2" letter-spacing="-0.6">0.5</tspan> <tspan dx="1.5" letter-spacing="-0.8">ps</tspan></text>
<text x="257.00" y="408.60" font-size="17">τ <tspan dx="2.9">=</tspan> <tspan dx="1.2" letter-spacing="-0.6">0.3</tspan> <tspan dx="1.5" letter-spacing="-0.8">ps</tspan></text>
<text x="257.00" y="428.60" font-size="17">τ <tspan dx="2.9">=</tspan> <tspan dx="1.2" letter-spacing="-0.6">0.4</tspan> <tspan dx="1.5" letter-spacing="-0.8">ps</tspan></text>
<text x="257.00" y="448.40" font-size="17">τ <tspan dx="2.9">=</tspan> <tspan dx="1.2" letter-spacing="-0.6">0.5</tspan> <tspan dx="1.5" letter-spacing="-0.8">ps</tspan></text>
<text x="577.40" y="322.30" font-size="17">τ <tspan dx="2.9">=</tspan> <tspan dx="1.2" letter-spacing="-0.6">0.3</tspan> <tspan dx="1.5" letter-spacing="-0.8">ps</tspan></text>
<text x="577.40" y="342.30" font-size="17">τ <tspan dx="2.9">=</tspan> <tspan dx="1.2" letter-spacing="-0.6">0.4</tspan> <tspan dx="1.5" letter-spacing="-0.8">ps</tspan></text>
<text x="577.40" y="362.30" font-size="17">τ <tspan dx="2.9">=</tspan> <tspan dx="1.2" letter-spacing="-0.6">0.5</tspan> <tspan dx="1.5" letter-spacing="-0.8">ps</tspan></text>
</g>
</svg>
</body></html>
